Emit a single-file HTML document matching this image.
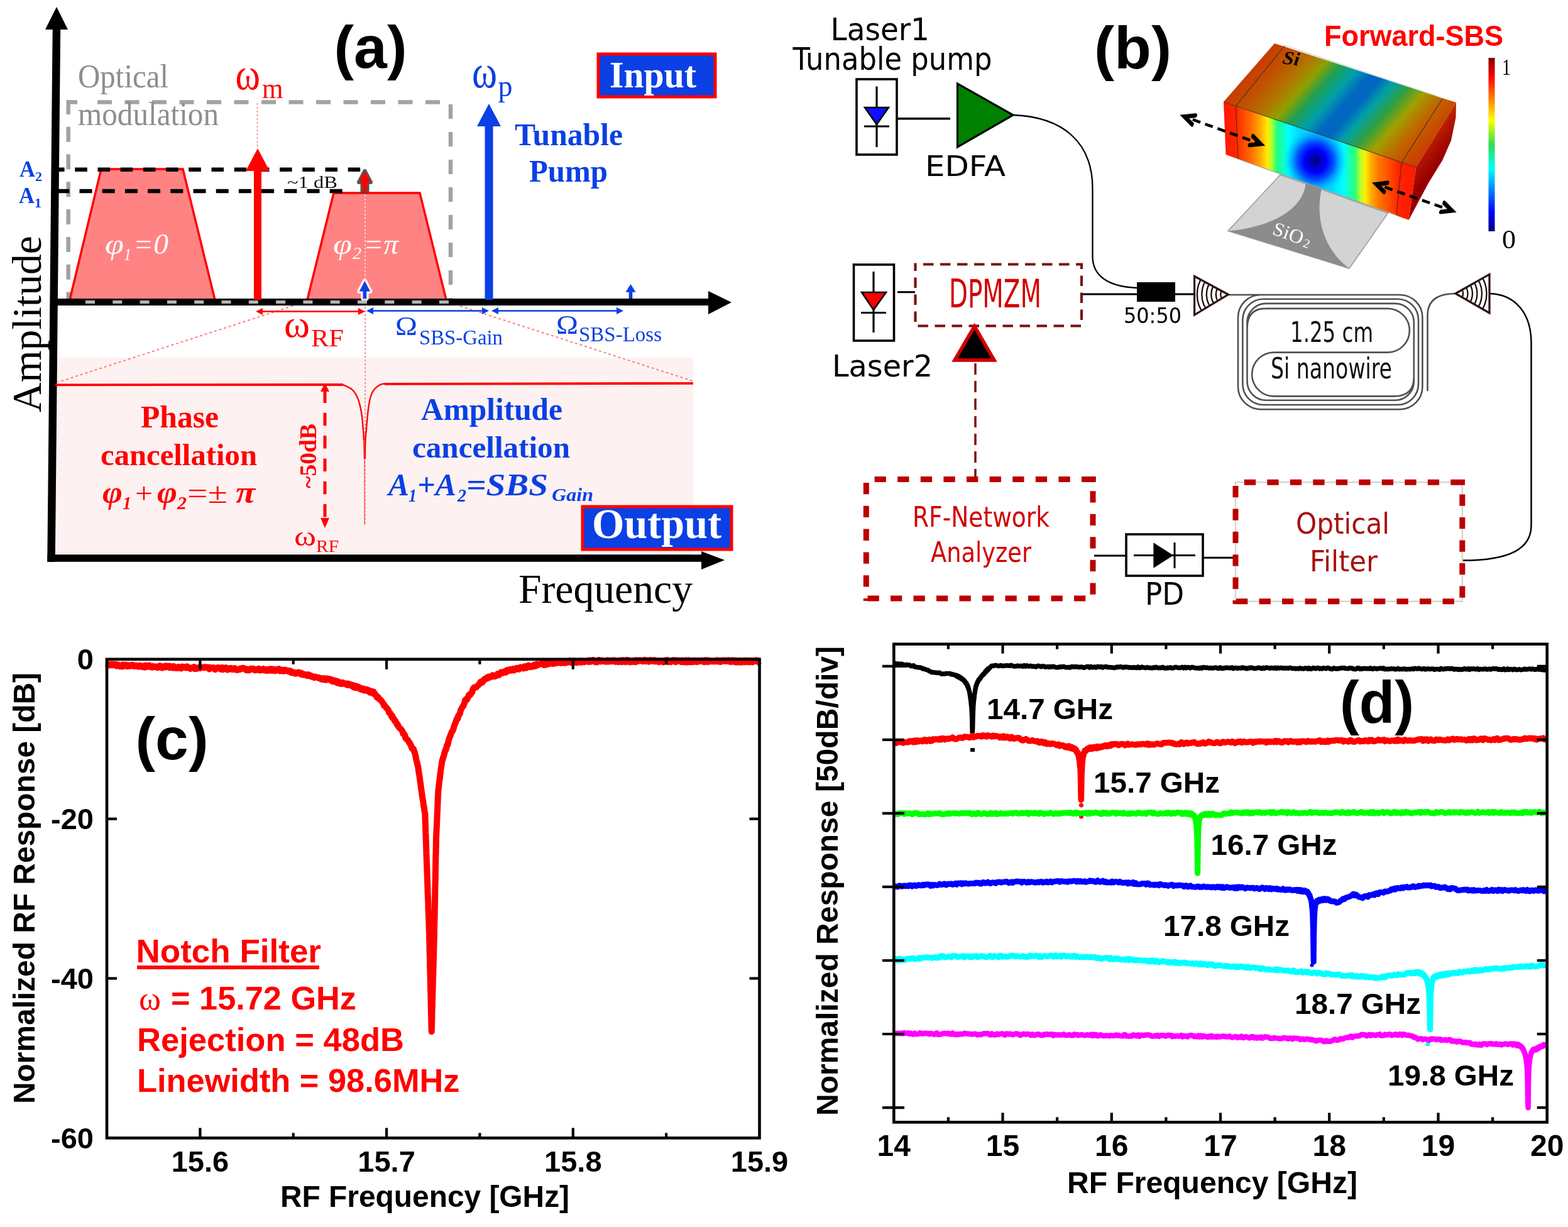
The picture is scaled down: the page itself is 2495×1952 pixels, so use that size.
<!DOCTYPE html><html><head><meta charset="utf-8"><title>figure</title><style>html,body{margin:0;padding:0;background:#fff;overflow:hidden}svg{display:block}</style></head><body><svg xmlns="http://www.w3.org/2000/svg" width="2495" height="1952" viewBox="0 0 2495 1952"><rect width="2495" height="1952" fill="#fff"/><rect x="87" y="569" width="1016" height="314" fill="#fdf1f1"/>
<path d="M105.5,162.5 H123 M108.7,159 V182 M155.0,162.5 H178.0 M198.5,162.5 H221.5 M242.0,162.5 H265.0 M285.5,162.5 H308.5 M329.0,162.5 H352.0 M372.5,162.5 H395.5 M416.0,162.5 H439.0 M459.5,162.5 H482.5 M503.0,162.5 H526.0 M546.5,162.5 H569.5 M590.0,162.5 H613.0 M633.5,162.5 H656.5 M677.0,162.5 H700.0 M717,166.0 V189.0 M717,210.0 V233.0 M717,254.0 V277.0 M717,298.0 V321.0 M717,342.0 V365.0 M717,386.0 V409.0 M717,430.0 V453.0 M717,474.0 V478.0 M108.7,201.7 V225.7 M108.7,245.5 V269.5 M108.7,289.3 V313.3 M108.7,333.1 V357.1 M108.7,376.9 V400.9 M108.7,420.7 V444.7 M108.7,464.5 V478.0" fill="none" stroke="#a2a2a2" stroke-width="6.5"/>
<polygon points="111.0,477.0 161.0,269.0 291.0,269.0 342.0,477.0" fill="#ff8383" stroke="#ff0000" stroke-width="3.5" stroke-linejoin="miter"/>
<polygon points="489.0,477.0 531.0,307.0 668.0,307.0 710.0,477.0" fill="#ff8383" stroke="#ff0000" stroke-width="3.5" stroke-linejoin="miter"/>
<line x1="83.1" y1="269.8" x2="576" y2="269.8" stroke="#000" stroke-width="6.5" stroke-dasharray="19.5 16.7"/>
<line x1="90.3" y1="304" x2="546" y2="304" stroke="#000" stroke-width="6.5" stroke-dasharray="20 16.2"/>
<line x1="409.5" y1="164" x2="409.5" y2="236" stroke="#ff9a9a" stroke-width="2" stroke-dasharray="3 3"/>
<line x1="581" y1="310" x2="581" y2="470" stroke="#ffd0d0" stroke-width="2" stroke-dasharray="3 3"/>
<line x1="581" y1="488" x2="581" y2="836" stroke="#ff8a8a" stroke-width="2" stroke-dasharray="3 3"/>
<line x1="474" y1="484" x2="92" y2="608" stroke="#ff7070" stroke-width="1.8" stroke-dasharray="4 4"/>
<line x1="717" y1="482" x2="1102" y2="606" stroke="#ff7070" stroke-width="1.8" stroke-dasharray="4 4"/>
<line x1="90" y1="40" x2="81.5" y2="894" stroke="#000" stroke-width="12.5"/>
<polygon points="90.0,11.0 108.0,47.0 72.0,47.0" fill="#000" stroke="none" stroke-width="1" />
<line x1="88" y1="480.5" x2="1130" y2="480.5" stroke="#000" stroke-width="11" />
<polygon points="1164.0,481.0 1127.0,463.0 1127.0,500.0" fill="#000" stroke="none" stroke-width="1" />
<line x1="75.5" y1="888" x2="1118" y2="888" stroke="#000" stroke-width="11.5" />
<polygon points="1153.0,891.0 1116.0,877.0 1116.0,906.0" fill="#000" stroke="none" stroke-width="1" />
<line x1="136" y1="480.5" x2="720" y2="480.5" stroke="#b4b4b4" stroke-width="5" stroke-dasharray="15 28.3"/>
<rect x="404" y="268" width="12" height="209" fill="#ff0000"/>
<polygon points="410.0,236.0 429.0,272.0 391.0,272.0" fill="#ff0000" stroke="none" stroke-width="1" />
<rect x="771.5" y="198" width="13" height="279" fill="#0a40e4"/>
<polygon points="778.0,165.0 797.0,201.0 759.0,201.0" fill="#0a40e4" stroke="none" stroke-width="1" />
<path d="M580.4,447 L589.0,463.4 L583.1999999999999,463.4 L583.1999999999999,475 L577.6,475 L577.6,463.4 L571.8,463.4 Z" fill="none" stroke="#ffffff" stroke-width="7" stroke-linejoin="round" opacity="0.85"/>
<path d="M580.4,447 L589.0,463.4 L583.1999999999999,463.4 L583.1999999999999,475 L577.6,475 L577.6,463.4 L571.8,463.4 Z" fill="#0a40e4"/>
<path d="M1003.5,452 L1011.5,464.7 L1006.3,464.7 L1006.3,475 L1000.7,475 L1000.7,464.7 L995.5,464.7 Z" fill="#0a40e4"/>
<path d="M580.5,272 L590.0,290 L584.5,290 L584.5,304 L576.5,304 L576.5,290 L571.0,290 Z" fill="none" stroke="#3c4848" stroke-width="6" stroke-linejoin="round" opacity="0.9"/>
<path d="M580.5,272 L590.0,290 L584.5,290 L584.5,304 L576.5,304 L576.5,290 L571.0,290 Z" fill="#ff0000"/>
<line x1="414" y1="495.5" x2="574" y2="495.5" stroke="#ff0000" stroke-width="2.5" />
<polygon points="407.0,495.5 418.0,490.0 418.0,501.0" fill="#ff0000" stroke="none" stroke-width="1" />
<polygon points="581.0,495.5 570.0,490.0 570.0,501.0" fill="#ff0000" stroke="none" stroke-width="1" />
<line x1="590" y1="494.5" x2="771" y2="494.5" stroke="#0a40e4" stroke-width="2.5" />
<polygon points="583.0,494.5 594.0,489.0 594.0,500.0" fill="#0a40e4" stroke="none" stroke-width="1" />
<polygon points="778.0,494.5 767.0,489.0 767.0,500.0" fill="#0a40e4" stroke="none" stroke-width="1" />
<line x1="789" y1="494.5" x2="985" y2="494.5" stroke="#0a40e4" stroke-width="2.5" />
<polygon points="782.0,494.5 793.0,489.0 793.0,500.0" fill="#0a40e4" stroke="none" stroke-width="1" />
<polygon points="992.0,494.5 981.0,489.0 981.0,500.0" fill="#0a40e4" stroke="none" stroke-width="1" />
<polyline points="88.0,612.3 546.0,612.0" fill="none" stroke="#ff0000" stroke-width="3.8" stroke-linejoin="round" />
<polyline points="540.0,612.0 540.4,612.0 540.9,611.9 541.4,611.7 542.1,611.6 542.8,611.6 543.7,611.7 544.8,611.9 546.0,612.3 547.5,612.9 549.3,613.6 551.2,614.5 553.3,615.5 555.4,616.6 557.5,617.8 559.4,619.1 561.0,620.5 562.4,622.0 563.8,623.6 565.0,625.4 566.1,627.2 567.2,629.1 568.1,631.2 569.1,633.4 570.0,635.7 570.9,638.2 571.7,640.9 572.4,643.7 573.1,646.6 573.8,649.6 574.4,652.6 574.9,655.6 575.4,658.5 575.8,661.4 576.2,664.2 576.5,667.1 576.8,670.0 577.0,672.8 577.3,675.7 577.5,678.6 577.7,681.4 577.9,684.2 578.2,687.0 578.4,689.7 578.6,692.5 578.7,695.3 578.9,698.1 579.1,701.0 579.2,704.0 579.3,707.3 579.4,710.9 579.5,714.6 579.6,718.4 579.7,722.0 579.7,725.2 579.8,728.0 579.8,730.0" fill="none" stroke="#ff0000" stroke-width="2.4" stroke-linejoin="round" />
<polyline points="579.8,700.0 580.2,835.0" fill="none" stroke="#ff6a6a" stroke-width="1.7" stroke-linejoin="round" />
<polyline points="580.8,730.0 580.8,728.0 580.9,725.2 580.9,722.0 580.9,718.4 581.0,714.6 581.1,710.9 581.2,707.3 581.3,704.0 581.4,701.1 581.6,698.3 581.8,695.6 582.0,693.0 582.2,690.3 582.5,687.5 582.7,684.6 583.0,681.4 583.3,677.9 583.6,674.1 584.0,670.1 584.4,666.0 584.8,662.0 585.2,658.1 585.6,654.4 586.0,651.0 586.4,647.9 586.8,645.1 587.3,642.4 587.7,639.9 588.2,637.5 588.7,635.2 589.2,633.0 589.8,631.0 590.4,629.1 591.1,627.3 591.8,625.7 592.5,624.2 593.2,622.8 594.1,621.5 595.0,620.2 596.0,619.0 597.1,617.8 598.4,616.6 599.7,615.5 601.2,614.4 602.6,613.5 604.0,612.6 605.4,611.9 606.6,611.3 607.8,610.9 609.1,610.7 610.3,610.6 611.5,610.6 612.6,610.6 613.5,610.7 614.4,610.8 615.0,610.8" fill="none" stroke="#ff0000" stroke-width="2.4" stroke-linejoin="round" />
<polyline points="612.0,610.8 760.0,610.6 1103.0,609.8" fill="none" stroke="#ff0000" stroke-width="3.8" stroke-linejoin="round" />
<line x1="517" y1="620.5" x2="517" y2="823" stroke="#ff0000" stroke-width="5" stroke-dasharray="20.5 15.8"/>
<polygon points="517.0,609.5 524.0,623.0 510.0,623.0" fill="#ff0000" stroke="none" stroke-width="1" />
<polygon points="517.0,840.0 524.0,824.0 510.0,824.0" fill="#ff0000" stroke="none" stroke-width="1" />
<rect x="952" y="86" width="186" height="68" fill="#0a40e4" stroke="#ff0000" stroke-width="5"/>
<rect x="927" y="806" width="237" height="68" fill="#0a40e4" stroke="#ff0000" stroke-width="5"/>
<text x="531.5" y="107.5" font-size="94" font-family='"Liberation Sans", Arial, sans-serif' fill="#000" font-weight="bold" textLength="116" lengthAdjust="spacingAndGlyphs">(a)</text>
<text x="124" y="139" font-size="52" font-family='"Liberation Serif", "Times New Roman", serif' fill="#8e8e8e" textLength="144" lengthAdjust="spacingAndGlyphs">Optical</text>
<text x="124" y="199" font-size="52" font-family='"Liberation Serif", "Times New Roman", serif' fill="#8e8e8e" textLength="224" lengthAdjust="spacingAndGlyphs">modulation</text>
<text x="374.5" y="142" font-size="71" font-family='"Liberation Serif", "Times New Roman", serif' fill="#ff0000" textLength="39.5" lengthAdjust="spacingAndGlyphs">&#969;</text>
<text x="417" y="156" font-size="47" font-family='"Liberation Serif", "Times New Roman", serif' fill="#ff0000" textLength="33.5" lengthAdjust="spacingAndGlyphs">m</text>
<text x="751" y="138.5" font-size="73" font-family='"Liberation Serif", "Times New Roman", serif' fill="#0a40e4" textLength="40" lengthAdjust="spacingAndGlyphs">&#969;</text>
<text x="792.5" y="153.4" font-size="48" font-family='"Liberation Serif", "Times New Roman", serif' fill="#0a40e4" textLength="23" lengthAdjust="spacingAndGlyphs">p</text>
<text x="819" y="231" font-size="50" font-family='"Liberation Serif", "Times New Roman", serif' fill="#0a40e4" font-weight="bold" textLength="172" lengthAdjust="spacingAndGlyphs">Tunable</text>
<text x="842" y="289" font-size="50" font-family='"Liberation Serif", "Times New Roman", serif' fill="#0a40e4" font-weight="bold" textLength="125" lengthAdjust="spacingAndGlyphs">Pump</text>
<text x="970" y="139" font-size="60" font-family='"Liberation Serif", "Times New Roman", serif' fill="#fff" font-weight="bold" textLength="138" lengthAdjust="spacingAndGlyphs">Input</text>
<text x="942" y="856" font-size="68" font-family='"Liberation Serif", "Times New Roman", serif' fill="#fff" font-weight="bold" textLength="206" lengthAdjust="spacingAndGlyphs">Output</text>
<text x="31" y="281" font-size="35" font-family='"Liberation Serif", "Times New Roman", serif' fill="#0a40e4" font-weight="bold" textLength="25" lengthAdjust="spacingAndGlyphs">A</text>
<text x="56" y="288" font-size="22" font-family='"Liberation Serif", "Times New Roman", serif' fill="#0a40e4" font-weight="bold" textLength="11" lengthAdjust="spacingAndGlyphs">2</text>
<text x="30" y="323" font-size="35" font-family='"Liberation Serif", "Times New Roman", serif' fill="#0a40e4" font-weight="bold" textLength="25" lengthAdjust="spacingAndGlyphs">A</text>
<text x="55" y="330" font-size="22" font-family='"Liberation Serif", "Times New Roman", serif' fill="#0a40e4" font-weight="bold" textLength="11" lengthAdjust="spacingAndGlyphs">1</text>
<text x="457" y="298.5" font-size="27" font-family='"Liberation Serif", "Times New Roman", serif' fill="#111" textLength="80" lengthAdjust="spacingAndGlyphs">~1 dB</text>
<text x="167" y="404" font-size="46" font-family='"Liberation Serif", "Times New Roman", serif' fill="#fff" font-style="italic" textLength="30" lengthAdjust="spacingAndGlyphs">&#966;</text>
<text x="197" y="414" font-size="28" font-family='"Liberation Serif", "Times New Roman", serif' fill="#fff" font-style="italic" textLength="12" lengthAdjust="spacingAndGlyphs">1</text>
<text x="212" y="404" font-size="46" font-family='"Liberation Serif", "Times New Roman", serif' fill="#fff" font-style="italic" textLength="56" lengthAdjust="spacingAndGlyphs">=0</text>
<text x="530" y="404" font-size="46" font-family='"Liberation Serif", "Times New Roman", serif' fill="#fff" font-style="italic" textLength="30" lengthAdjust="spacingAndGlyphs">&#966;</text>
<text x="561" y="412" font-size="28" font-family='"Liberation Serif", "Times New Roman", serif' fill="#fff" font-style="italic" textLength="14" lengthAdjust="spacingAndGlyphs">2</text>
<text x="578" y="404" font-size="46" font-family='"Liberation Serif", "Times New Roman", serif' fill="#fff" font-style="italic" textLength="56" lengthAdjust="spacingAndGlyphs">=&#960;</text>
<text x="452" y="536" font-size="62" font-family='"Liberation Serif", "Times New Roman", serif' fill="#ff0000" textLength="41" lengthAdjust="spacingAndGlyphs">&#969;</text>
<text x="495" y="550.6" font-size="41" font-family='"Liberation Serif", "Times New Roman", serif' fill="#ff0000" textLength="52" lengthAdjust="spacingAndGlyphs">RF</text>
<text x="629" y="533" font-size="43" font-family='"Liberation Serif", "Times New Roman", serif' fill="#0a40e4" textLength="35" lengthAdjust="spacingAndGlyphs">&#937;</text>
<text x="667" y="547.5" font-size="33.5" font-family='"Liberation Serif", "Times New Roman", serif' fill="#0a40e4" textLength="133" lengthAdjust="spacingAndGlyphs">SBS-Gain</text>
<text x="885" y="531" font-size="43" font-family='"Liberation Serif", "Times New Roman", serif' fill="#0a40e4" textLength="35" lengthAdjust="spacingAndGlyphs">&#937;</text>
<text x="921" y="543" font-size="33.5" font-family='"Liberation Serif", "Times New Roman", serif' fill="#0a40e4" textLength="132" lengthAdjust="spacingAndGlyphs">SBS-Loss</text>
<text x="0" y="0" font-size="66" font-family='"Liberation Serif", "Times New Roman", serif' fill="#000" textLength="281" lengthAdjust="spacingAndGlyphs" transform="translate(65,656) rotate(-90)">Amplitude</text>
<text x="825" y="958.5" font-size="65" font-family='"Liberation Serif", "Times New Roman", serif' fill="#000" textLength="277" lengthAdjust="spacingAndGlyphs">Frequency</text>
<text x="224" y="680" font-size="50" font-family='"Liberation Serif", "Times New Roman", serif' fill="#ff0000" font-weight="bold" textLength="124" lengthAdjust="spacingAndGlyphs">Phase</text>
<text x="160" y="740" font-size="49" font-family='"Liberation Serif", "Times New Roman", serif' fill="#ff0000" font-weight="bold" textLength="249" lengthAdjust="spacingAndGlyphs">cancellation</text>
<text x="163" y="800" font-size="50" font-family='"Liberation Serif", "Times New Roman", serif' fill="#ff0000" font-weight="bold" font-style="italic" textLength="32" lengthAdjust="spacingAndGlyphs">&#966;</text>
<text x="195" y="810" font-size="30" font-family='"Liberation Serif", "Times New Roman", serif' fill="#ff0000" font-weight="bold" font-style="italic" textLength="14" lengthAdjust="spacingAndGlyphs">1</text>
<text x="215" y="800" font-size="46" font-family='"Liberation Serif", "Times New Roman", serif' fill="#ff0000" textLength="28" lengthAdjust="spacingAndGlyphs">+</text>
<text x="250" y="800" font-size="50" font-family='"Liberation Serif", "Times New Roman", serif' fill="#ff0000" font-weight="bold" font-style="italic" textLength="32" lengthAdjust="spacingAndGlyphs">&#966;</text>
<text x="282" y="810" font-size="30" font-family='"Liberation Serif", "Times New Roman", serif' fill="#ff0000" font-weight="bold" font-style="italic" textLength="15" lengthAdjust="spacingAndGlyphs">2</text>
<text x="298" y="800" font-size="46" font-family='"Liberation Serif", "Times New Roman", serif' fill="#ff0000" textLength="64" lengthAdjust="spacingAndGlyphs">=&#177;</text>
<text x="375" y="800" font-size="50" font-family='"Liberation Serif", "Times New Roman", serif' fill="#ff0000" font-weight="bold" font-style="italic" textLength="31" lengthAdjust="spacingAndGlyphs">&#960;</text>
<text x="0" y="0" font-size="37.5" font-family='"Liberation Serif", "Times New Roman", serif' fill="#ff0000" font-weight="bold" textLength="103" lengthAdjust="spacingAndGlyphs" transform="translate(503,777) rotate(-90)">~50dB</text>
<text x="468" y="868.4" font-size="45" font-family='"Liberation Serif", "Times New Roman", serif' fill="#ff0000" textLength="35" lengthAdjust="spacingAndGlyphs">&#969;</text>
<text x="503" y="878" font-size="26.5" font-family='"Liberation Serif", "Times New Roman", serif' fill="#ff0000" textLength="36" lengthAdjust="spacingAndGlyphs">RF</text>
<text x="670" y="667.6" font-size="50" font-family='"Liberation Serif", "Times New Roman", serif' fill="#0a40e4" font-weight="bold" textLength="225" lengthAdjust="spacingAndGlyphs">Amplitude</text>
<text x="656" y="727.7" font-size="49" font-family='"Liberation Serif", "Times New Roman", serif' fill="#0a40e4" font-weight="bold" textLength="251" lengthAdjust="spacingAndGlyphs">cancellation</text>
<text x="618" y="787.8" font-size="50" font-family='"Liberation Serif", "Times New Roman", serif' fill="#0a40e4" font-weight="bold" font-style="italic" textLength="33" lengthAdjust="spacingAndGlyphs">A</text>
<text x="650" y="798" font-size="30" font-family='"Liberation Serif", "Times New Roman", serif' fill="#0a40e4" font-weight="bold" font-style="italic" textLength="13" lengthAdjust="spacingAndGlyphs">1</text>
<text x="664" y="787.8" font-size="50" font-family='"Liberation Serif", "Times New Roman", serif' fill="#0a40e4" font-weight="bold" font-style="italic" textLength="62" lengthAdjust="spacingAndGlyphs">+A</text>
<text x="728" y="798" font-size="30" font-family='"Liberation Serif", "Times New Roman", serif' fill="#0a40e4" font-weight="bold" font-style="italic" textLength="14" lengthAdjust="spacingAndGlyphs">2</text>
<text x="742" y="787.8" font-size="50" font-family='"Liberation Serif", "Times New Roman", serif' fill="#0a40e4" font-weight="bold" font-style="italic" textLength="130" lengthAdjust="spacingAndGlyphs">=SBS</text>
<text x="878" y="797" font-size="30" font-family='"Liberation Serif", "Times New Roman", serif' fill="#0a40e4" font-weight="bold" font-style="italic" textLength="66" lengthAdjust="spacingAndGlyphs">Gain</text>
<path d="M1612,183 C1690,186 1738.5,225 1738.5,300 L1738.5,408 C1738.5,438 1762,456 1809,458" fill="none" stroke="#000" stroke-width="2.3"/>
<path d="M2370,467 C2412,468 2436.5,500 2436.5,545 L2436.5,836 C2436.5,872 2404,891.6 2327,891.6" fill="none" stroke="#000" stroke-width="2.5"/>
<path d="M2006,469 H2227.4 A36,36 0 0 1 2263.4,505 V615.2 A36,36 0 0 1 2227.4,651.2 H2006 A36,36 0 0 1 1970,615.2 V505 A36,36 0 0 1 2006,469 Z M2010.3,475.7 H2224 A33,33 0 0 1 2257,508.7 V611 A33,33 0 0 1 2224,644 H2010.3 A33,33 0 0 1 1977.3,611 V508.7 A33,33 0 0 1 2010.3,475.7 Z M2014.5,482.9 H2219.8 A30,30 0 0 1 2249.8,512.9 V606.8 A30,30 0 0 1 2219.8,636.8 H2014.5 A30,30 0 0 1 1984.5,606.8 V512.9 A30,30 0 0 1 2014.5,482.9 Z M1984.5,522 Q1984.5,490.9 2014,490.9 H2208 A34.8,34.8 0 0 1 2208,560.6 H2027 A34.9,34.9 0 0 0 2027,630.4 H2218 Q2249.8,630.4 2249.8,600 M1954,469 H2005 M2271.5,622 V502 Q2271.5,467 2316,467" fill="none" stroke="#505050" stroke-width="2.6"/>
<clipPath id="gc1954"><polygon points="1954.3,468.5 1900.6,439.5 1900.6,501"/></clipPath>
<g clip-path="url(#gc1954)" fill="none" stroke="#1e0c0c" stroke-width="2.3"><circle cx="1954.3" cy="468.5" r="12"/><circle cx="1954.3" cy="468.5" r="19.5"/><circle cx="1954.3" cy="468.5" r="27"/><circle cx="1954.3" cy="468.5" r="34.5"/><circle cx="1954.3" cy="468.5" r="42"/><circle cx="1954.3" cy="468.5" r="49.5"/></g>
<polygon points="1954.3,468.5 1900.6,439.5 1900.6,501" fill="none" stroke="#2a1212" stroke-width="3.2" stroke-linejoin="miter"/>
<clipPath id="gc2316"><polygon points="2316,467 2370,436.4 2370,498"/></clipPath>
<g clip-path="url(#gc2316)" fill="none" stroke="#1e0c0c" stroke-width="2.3"><circle cx="2316" cy="467" r="12"/><circle cx="2316" cy="467" r="19.5"/><circle cx="2316" cy="467" r="27"/><circle cx="2316" cy="467" r="34.5"/><circle cx="2316" cy="467" r="42"/><circle cx="2316" cy="467" r="49.5"/></g>
<polygon points="2316,467 2370,436.4 2370,498" fill="none" stroke="#2a1212" stroke-width="3.2" stroke-linejoin="miter"/>
<line x1="1427" y1="188.7" x2="1512" y2="188.7" stroke="#000" stroke-width="3.5" />
<line x1="1428" y1="464.7" x2="1456" y2="464.7" stroke="#000" stroke-width="3" />
<line x1="1721" y1="468" x2="1810" y2="468" stroke="#000" stroke-width="3" />
<line x1="1869" y1="468" x2="1901" y2="468" stroke="#000" stroke-width="3" />
<line x1="1741" y1="884" x2="1795" y2="884" stroke="#000" stroke-width="3" />
<line x1="1914" y1="887.3" x2="1968" y2="887.3" stroke="#000" stroke-width="3" />
<rect x="1363" y="126" width="64" height="120" fill="#fff" stroke="#000" stroke-width="3.6"/>
<line x1="1395" y1="137.5" x2="1395" y2="234" stroke="#000" stroke-width="3.2" />
<polygon points="1376.0,171.0 1414.0,171.0 1395.0,198.0" fill="#1010ff" stroke="#000" stroke-width="2.5" />
<line x1="1375" y1="201" x2="1415" y2="201" stroke="#000" stroke-width="3.2" />
<polygon points="1523.5,133.0 1523.5,234.0 1612.0,183.0" fill="#008000" stroke="#000" stroke-width="3.2" stroke-linejoin="miter"/>
<rect x="1358.5" y="421" width="64" height="121" fill="#fff" stroke="#000" stroke-width="3.6"/>
<line x1="1390" y1="432" x2="1390" y2="529" stroke="#000" stroke-width="3.2" />
<polygon points="1371.0,465.0 1410.0,465.0 1390.0,493.0" fill="#ff0000" stroke="#000" stroke-width="2.5" />
<line x1="1370" y1="497.5" x2="1410" y2="497.5" stroke="#000" stroke-width="3.2" />
<rect x="1456.5" y="420.5" width="264.5" height="98" fill="none" stroke="#7a1010" stroke-width="4.2" stroke-dasharray="16.5 10.5" stroke-dashoffset="14.5"/>
<line x1="1552" y1="578" x2="1552" y2="763" stroke="#7a1010" stroke-width="3.5" stroke-dasharray="18 10"/>
<polygon points="1550.6,519.0 1582.0,573.0 1519.0,573.0" fill="#000" stroke="#d40000" stroke-width="5.5" stroke-linejoin="miter"/>
<rect x="1809" y="449" width="61" height="31" fill="#000"/>
<path d="M1391.6,762.5 H1409.9 M1428.2,762.5 H1446.5 M1464.8,762.5 H1483.1 M1501.4,762.5 H1519.7 M1538.0,762.5 H1556.3 M1574.6,762.5 H1592.9 M1611.2,762.5 H1629.5 M1647.8,762.5 H1666.1 M1684.4,762.5 H1702.7 M1721.0,762.5 H1739.3 M1721,762.5 H1743.8 M1739,781.2 V799.5 M1739,817.8 V836.0 M1739,854.3 V872.6 M1739,890.8 V909.1 M1739,927.4 V945.7 M1380.5,952 H1398.8 M1417.0,952 H1435.3 M1453.5,952 H1471.8 M1490.0,952 H1508.3 M1526.5,952 H1544.8 M1563.0,952 H1581.3 M1599.5,952 H1617.8 M1636.0,952 H1654.3 M1672.5,952 H1690.8 M1709.0,952 H1727.3 M1378.3,768.0 V786.3 M1378.3,804.8 V823.1 M1378.3,841.6 V859.9 M1378.3,878.4 V896.7 M1378.3,915.2 V933.5 M1378.3,952.0 V956.0" fill="none" stroke="#bb0000" stroke-width="9"/>
<rect x="1966" y="767.2" width="360.8" height="189.5" fill="none" stroke="#d6d6d6" stroke-width="2.5"/>
<path d="M1979.8,767.2 H1998.1 M2016.3,767.2 H2034.6 M2052.8,767.2 H2071.1 M2089.3,767.2 H2107.6 M2125.8,767.2 H2144.1 M2162.3,767.2 H2180.6 M2198.8,767.2 H2217.1 M2235.3,767.2 H2253.6 M2271.8,767.2 H2290.1 M2308.3,767.2 H2326.6 M2309.2,767.2 H2331 M2326.8,786.4 V804.7 M2326.8,822.9 V841.2 M2326.8,859.4 V877.7 M2326.8,895.9 V914.2 M2326.8,932.4 V950.7 M1967.0,956.7 H1985.3 M2003.5,956.7 H2021.8 M2040.0,956.7 H2058.3 M2076.5,956.7 H2094.8 M2113.0,956.7 H2131.3 M2149.5,956.7 H2167.8 M2186.0,956.7 H2204.3 M2222.5,956.7 H2240.8 M2259.0,956.7 H2277.3 M2295.5,956.7 H2313.8 M1966,773.0 V791.3 M1966,809.4 V827.7 M1966,845.8 V864.1 M1966,882.2 V900.5 M1966,918.6 V936.9 M1966,955.0 V961.0" fill="none" stroke="#bb0000" stroke-width="9"/>
<rect x="1792" y="850" width="122" height="66" fill="#fff" stroke="#000" stroke-width="3.6"/>
<line x1="1804" y1="883.5" x2="1902" y2="883.5" stroke="#000" stroke-width="3" />
<polygon points="1835.4,863.3 1835.4,903.8 1867.0,883.5" fill="#000" stroke="none" stroke-width="1" />
<line x1="1869" y1="863" x2="1869" y2="904" stroke="#000" stroke-width="3" />
<defs><linearGradient id="gfront" gradientUnits="userSpaceOnUse" x1="1947" y1="0" x2="2253" y2="0"><stop offset="0" stop-color="#ff1800"/><stop offset="0.06" stop-color="#ff2400"/><stop offset="0.14" stop-color="#ff6a00"/><stop offset="0.19" stop-color="#ffa800"/><stop offset="0.228" stop-color="#ffee00"/><stop offset="0.25" stop-color="#b0ff30"/><stop offset="0.278" stop-color="#20ff80"/><stop offset="0.34" stop-color="#00ffff"/><stop offset="0.40" stop-color="#00d8ff"/><stop offset="0.48" stop-color="#00c8ff"/><stop offset="0.56" stop-color="#00d8ff"/><stop offset="0.623" stop-color="#00ffff"/><stop offset="0.686" stop-color="#30ff70"/><stop offset="0.71" stop-color="#b0ff30"/><stop offset="0.737" stop-color="#ffee00"/><stop offset="0.77" stop-color="#ffa800"/><stop offset="0.806" stop-color="#ff7800"/><stop offset="0.876" stop-color="#ff4000"/><stop offset="0.91" stop-color="#ff2400"/><stop offset="1" stop-color="#ff1800"/></linearGradient><radialGradient id="gspot" gradientUnits="userSpaceOnUse" cx="2093" cy="256" r="54" gradientTransform="translate(2093 256) scale(0.95 1) translate(-2093 -256)"><stop offset="0" stop-color="#000070"/><stop offset="0.15" stop-color="#0000b8"/><stop offset="0.35" stop-color="#0000ff"/><stop offset="0.58" stop-color="#0058ff"/><stop offset="0.8" stop-color="#00a8ff" stop-opacity="0.6"/><stop offset="1" stop-color="#00e0ff" stop-opacity="0"/></radialGradient><linearGradient id="gtop" gradientUnits="userSpaceOnUse" x1="1947" y1="162" x2="2172.5" y2="358.4"><stop offset="0" stop-color="#c83c00"/><stop offset="0.1" stop-color="#c05200"/><stop offset="0.2" stop-color="#b07800"/><stop offset="0.27" stop-color="#90a000"/><stop offset="0.34" stop-color="#20a050"/><stop offset="0.42" stop-color="#00a0a8"/><stop offset="0.49" stop-color="#0068c0"/><stop offset="0.55" stop-color="#0068c0"/><stop offset="0.61" stop-color="#00a0a8"/><stop offset="0.69" stop-color="#30a040"/><stop offset="0.77" stop-color="#a0a000"/><stop offset="0.86" stop-color="#c06800"/><stop offset="0.95" stop-color="#c84800"/><stop offset="1" stop-color="#c83c00"/></linearGradient><linearGradient id="gright" gradientUnits="userSpaceOnUse" x1="2262" y1="215" x2="2300" y2="245"><stop offset="0" stop-color="#c84200"/><stop offset="0.45" stop-color="#b41800"/><stop offset="1" stop-color="#980000"/></linearGradient><linearGradient id="gcbar" x1="0" y1="0" x2="0" y2="1"><stop offset="0" stop-color="#800000"/><stop offset="0.11" stop-color="#ff0000"/><stop offset="0.36" stop-color="#ffff00"/><stop offset="0.5" stop-color="#30dd50"/><stop offset="0.64" stop-color="#00ffff"/><stop offset="0.89" stop-color="#0000ff"/><stop offset="1" stop-color="#000080"/></linearGradient></defs>
<polygon points="2037.0,278.0 1954.0,367.5 2147.0,427.0 2208.5,339.0" fill="#d3d3d3" stroke="#9a9a9a" stroke-width="1.5" />
<path d="M2078,288 C2076,330 2030,360 1955,367.5 L2147,427 C2110,400 2090,350 2104,296 Z" fill="#8c8c8c"/>
<text x="0" y="0" font-size="31" font-family='"Liberation Serif", "Times New Roman", serif' fill="#fff" textLength="50" lengthAdjust="spacingAndGlyphs" transform="translate(2023,372) rotate(20)">SiO</text>
<text x="0" y="0" font-size="20" font-family='"Liberation Serif", "Times New Roman", serif' fill="#fff" textLength="10" lengthAdjust="spacingAndGlyphs" transform="translate(2072,392) rotate(20)">2</text>
<polygon points="2253.0,266.0 2317.0,163.0 2316.5,187.0 2309.0,223.5 2295.0,255.5 2272.5,292.0 2241.6,350.0" fill="url(#gright)" stroke="none" stroke-width="1" />
<polygon points="1947.0,162.0 2028.0,69.0 2317.0,163.0 2253.0,266.0" fill="url(#gtop)" stroke="none" stroke-width="1" />
<polygon points="1947.0,162.0 2253.0,266.0 2241.6,350.0 1950.5,246.0" fill="url(#gfront)" stroke="none" stroke-width="1" />
<polygon points="1966.5,168.7 2230,259 2222,342 1970,253" fill="url(#gspot)"/>
<g fill="none" stroke="#3a2a20" stroke-width="1.2" opacity="0.8"><polyline points="1966.5,168.7 2044,72.8"/><polyline points="1966.5,168.7 1970,253"/><polyline points="1947,162 2253,266"/><polyline points="2230,259 2296,156"/><polyline points="2230,259 2222,342"/></g>
<line x1="2044" y1="72" x2="2296" y2="156" stroke="#d8d8d8" stroke-width="1.5"/>
<line x1="1970" y1="253" x2="2222" y2="342" stroke="#a0a0a0" stroke-width="1.2"/>
<text x="0" y="0" font-size="30" font-family='"Liberation Serif", "Times New Roman", serif' fill="#000" font-weight="bold" font-style="italic" textLength="27" lengthAdjust="spacingAndGlyphs" transform="translate(2040,101) rotate(8)">Si</text>
<line x1="1897.8" y1="190.2" x2="2002.2" y2="227.7" stroke="#000" stroke-width="4.6" stroke-dasharray="13 8"/>
<polyline points="1987.9,231.8 2007.8,229.7 1993.8,215.4" fill="none" stroke="#000" stroke-width="5" stroke-linecap="round" stroke-linejoin="miter"/>
<polyline points="1902.6,182.7 1882.7,184.8 1896.7,199.1" fill="none" stroke="#000" stroke-width="5" stroke-linecap="round" stroke-linejoin="miter"/>
<polyline points="1902.3,185.4 1888.3,186.8 1898.2,196.8" fill="none" stroke="#000" stroke-width="3.5" stroke-linecap="round" stroke-linejoin="miter"/>
<polyline points="1988.2,229.1 2002.2,227.7 1992.3,217.7" fill="none" stroke="#000" stroke-width="3.5" stroke-linecap="round" stroke-linejoin="miter"/>
<line x1="2203.4" y1="297.7" x2="2306.5" y2="333.8" stroke="#000" stroke-width="4.6" stroke-dasharray="13 8"/>
<polyline points="2292.3,338.1 2312.2,335.8 2298.1,321.6" fill="none" stroke="#000" stroke-width="5" stroke-linecap="round" stroke-linejoin="miter"/>
<polyline points="2208.2,290.1 2188.3,292.4 2202.4,306.6" fill="none" stroke="#000" stroke-width="5" stroke-linecap="round" stroke-linejoin="miter"/>
<polyline points="2207.9,292.8 2194.0,294.4 2203.8,304.3" fill="none" stroke="#000" stroke-width="3.5" stroke-linecap="round" stroke-linejoin="miter"/>
<polyline points="2292.6,335.4 2306.5,333.8 2296.7,323.9" fill="none" stroke="#000" stroke-width="3.5" stroke-linecap="round" stroke-linejoin="miter"/>
<rect x="2368.5" y="92" width="10" height="276" fill="url(#gcbar)"/>
<text x="2390" y="118.6" font-size="36" font-family='"Liberation Serif", "Times New Roman", serif' fill="#000" textLength="14" lengthAdjust="spacingAndGlyphs">1</text>
<text x="2390" y="395" font-size="42" font-family='"Liberation Serif", "Times New Roman", serif' fill="#000" textLength="22" lengthAdjust="spacingAndGlyphs">0</text>
<text x="1741" y="108.5" font-size="94" font-family='"Liberation Sans", Arial, sans-serif' fill="#000" font-weight="bold" textLength="123" lengthAdjust="spacingAndGlyphs">(b)</text>
<text x="2107" y="73.3" font-size="46" font-family='"Liberation Sans", Arial, sans-serif' fill="#ff0000" font-weight="bold" textLength="285" lengthAdjust="spacingAndGlyphs">Forward-SBS</text>
<text x="1321.5" y="64.3" font-size="50" font-family='"DejaVu Sans", Verdana, sans-serif' fill="#000" textLength="157.5" lengthAdjust="spacingAndGlyphs">Laser1</text>
<text x="1261.5" y="111.2" font-size="49" font-family='"DejaVu Sans", Verdana, sans-serif' fill="#000" textLength="317" lengthAdjust="spacingAndGlyphs">Tunable pump</text>
<text x="1472" y="280" font-size="44" font-family='"DejaVu Sans", Verdana, sans-serif' fill="#000" textLength="128" lengthAdjust="spacingAndGlyphs">EDFA</text>
<text x="1324" y="598.7" font-size="48" font-family='"DejaVu Sans", Verdana, sans-serif' fill="#000" textLength="160" lengthAdjust="spacingAndGlyphs">Laser2</text>
<text x="1510" y="489" font-size="63" font-family='"DejaVu Sans", Verdana, sans-serif' fill="#d40000" textLength="147" lengthAdjust="spacingAndGlyphs">DPMZM</text>
<text x="1788" y="513.8" font-size="34" font-family='"DejaVu Sans", Verdana, sans-serif' fill="#000" textLength="92" lengthAdjust="spacingAndGlyphs">50:50</text>
<text x="2053" y="544" font-size="45" font-family='"DejaVu Sans", Verdana, sans-serif' fill="#111" textLength="132" lengthAdjust="spacingAndGlyphs">1.25 cm</text>
<text x="2022" y="601.5" font-size="46" font-family='"DejaVu Sans", Verdana, sans-serif' fill="#111" textLength="193" lengthAdjust="spacingAndGlyphs">Si nanowire</text>
<text x="1452" y="838" font-size="44" font-family='"DejaVu Sans", Verdana, sans-serif' fill="#d20000" textLength="218" lengthAdjust="spacingAndGlyphs">RF-Network</text>
<text x="1481" y="894" font-size="44" font-family='"DejaVu Sans", Verdana, sans-serif' fill="#d20000" textLength="160" lengthAdjust="spacingAndGlyphs">Analyzer</text>
<text x="2062" y="849" font-size="46" font-family='"DejaVu Sans", Verdana, sans-serif' fill="#a81010" textLength="149" lengthAdjust="spacingAndGlyphs">Optical</text>
<text x="2084" y="909" font-size="46" font-family='"DejaVu Sans", Verdana, sans-serif' fill="#a81010" textLength="108" lengthAdjust="spacingAndGlyphs">Filter</text>
<text x="1822" y="962" font-size="49" font-family='"DejaVu Sans", Verdana, sans-serif' fill="#000" textLength="62" lengthAdjust="spacingAndGlyphs">PD</text>
<path d="M170.0,1057.4 L171.2,1056.8 L172.4,1058.6 L173.6,1056.6 L174.8,1058.3 L176.0,1057.7 L177.2,1056.6 L178.4,1058.3 L179.7,1056.6 L180.9,1058.1 L182.1,1056.8 L183.3,1057.0 L184.5,1058.2 L185.7,1059.7 L186.9,1057.2 L188.1,1057.6 L189.3,1059.1 L190.5,1060.3 L191.7,1059.0 L192.9,1058.4 L194.1,1060.5 L195.3,1057.2 L196.5,1060.1 L197.8,1058.1 L199.0,1057.7 L200.2,1057.6 L201.4,1058.3 L202.6,1060.2 L203.8,1057.9 L205.0,1059.4 L206.2,1059.7 L207.4,1058.7 L208.6,1059.4 L209.8,1057.7 L211.0,1057.7 L212.2,1058.3 L213.4,1060.0 L214.6,1059.2 L215.9,1058.8 L217.1,1059.8 L218.3,1059.4 L219.5,1058.9 L220.7,1060.7 L221.9,1060.4 L223.1,1058.8 L224.3,1060.0 L225.5,1059.9 L226.7,1061.2 L227.9,1060.7 L229.1,1059.1 L230.3,1061.7 L231.5,1058.6 L232.7,1059.7 L234.0,1061.0 L235.2,1058.8 L236.4,1060.1 L237.6,1058.5 L238.8,1060.8 L240.0,1061.2 L241.2,1060.6 L242.4,1061.7 L243.6,1059.7 L244.8,1061.1 L246.0,1060.8 L247.2,1060.8 L248.4,1060.4 L249.6,1061.8 L250.8,1062.2 L252.0,1060.5 L253.3,1061.3 L254.5,1059.1 L255.7,1061.5 L256.9,1061.3 L258.1,1062.6 L259.3,1062.0 L260.5,1060.1 L261.7,1060.5 L262.9,1061.6 L264.1,1059.3 L265.3,1060.9 L266.5,1059.9 L267.7,1059.8 L268.9,1059.6 L270.1,1062.2 L271.4,1059.9 L272.6,1060.4 L273.8,1060.9 L275.0,1062.7 L276.2,1059.9 L277.4,1061.3 L278.6,1061.7 L279.8,1062.9 L281.0,1062.7 L282.2,1062.9 L283.4,1060.9 L284.6,1061.4 L285.8,1061.2 L287.0,1063.2 L288.2,1063.5 L289.5,1060.6 L290.7,1060.7 L291.9,1061.0 L293.1,1061.0 L294.3,1061.9 L295.5,1062.4 L296.7,1061.2 L297.9,1060.3 L299.1,1061.9 L300.3,1061.7 L301.5,1062.5 L302.7,1063.9 L303.9,1063.0 L305.1,1062.4 L306.3,1062.8 L307.6,1063.1 L308.8,1060.9 L310.0,1063.9 L311.2,1063.6 L312.4,1063.9 L313.6,1063.7 L314.8,1062.3 L316.0,1062.3 L317.2,1061.3 L318.4,1063.2 L319.6,1061.2 L320.8,1061.3 L322.0,1061.8 L323.2,1061.7 L324.5,1062.3 L325.7,1061.3 L326.9,1061.2 L328.1,1061.7 L329.3,1061.6 L330.5,1062.6 L331.7,1061.4 L332.9,1064.5 L334.1,1063.6 L335.3,1061.9 L336.5,1062.3 L337.7,1062.7 L338.9,1062.8 L340.1,1061.9 L341.4,1064.6 L342.6,1065.1 L343.8,1063.3 L345.0,1063.4 L346.2,1062.0 L347.4,1062.0 L348.6,1062.9 L349.8,1062.7 L351.0,1064.7 L352.2,1062.4 L353.4,1061.9 L354.6,1065.3 L355.8,1063.8 L357.0,1062.4 L358.3,1063.9 L359.5,1062.1 L360.7,1063.9 L361.9,1065.6 L363.1,1065.2 L364.3,1064.6 L365.5,1063.1 L366.7,1063.5 L367.9,1062.8 L369.1,1065.0 L370.3,1064.2 L371.5,1065.1 L372.7,1063.5 L373.9,1063.1 L375.2,1065.3 L376.4,1065.9 L377.6,1065.5 L378.8,1065.3 L380.0,1065.4 L381.2,1065.2 L382.4,1063.4 L383.6,1064.4 L384.8,1063.9 L386.0,1062.7 L387.2,1062.8 L388.4,1063.7 L389.6,1063.6 L390.8,1065.2 L392.1,1066.2 L393.3,1064.4 L394.5,1066.2 L395.7,1066.4 L396.9,1066.3 L398.1,1064.2 L399.3,1063.7 L400.5,1063.8 L401.7,1063.7 L402.9,1063.8 L404.1,1065.3 L405.3,1066.3 L406.5,1066.2 L407.7,1064.9 L409.0,1065.5 L410.2,1066.1 L411.4,1063.6 L412.6,1065.7 L413.8,1066.6 L415.0,1066.2 L416.2,1066.1 L417.4,1065.1 L418.6,1064.1 L419.8,1066.3 L421.0,1064.7 L422.2,1066.4 L423.4,1067.0 L424.6,1065.0 L425.9,1065.1 L427.1,1067.0 L428.3,1066.3 L429.5,1064.3 L430.7,1064.2 L431.9,1064.3 L433.1,1067.0 L434.3,1066.7 L435.5,1064.4 L436.7,1066.8 L437.9,1067.4 L439.1,1066.3 L440.3,1065.2 L441.5,1066.0 L442.8,1064.5 L444.0,1064.1 L445.2,1067.6 L446.4,1066.4 L447.6,1066.0 L448.8,1067.5 L450.0,1065.8 L451.2,1067.6 L452.4,1067.7 L453.6,1065.7 L454.8,1066.1 L455.9,1066.5 L457.1,1066.6 L458.3,1068.1 L459.5,1067.1 L460.7,1068.0 L461.9,1067.2 L463.1,1070.2 L464.2,1068.5 L465.4,1069.1 L466.6,1069.8 L467.8,1071.2 L469.0,1069.7 L470.2,1071.8 L471.4,1070.5 L472.6,1070.9 L473.8,1071.1 L474.9,1069.5 L476.1,1071.3 L477.3,1070.6 L478.5,1070.2 L479.7,1073.3 L480.9,1071.3 L482.1,1072.7 L483.2,1073.8 L484.4,1073.5 L485.6,1072.9 L486.8,1073.8 L488.0,1074.2 L489.2,1075.3 L490.4,1073.1 L491.6,1075.0 L492.8,1074.1 L493.9,1074.4 L495.1,1076.5 L496.3,1075.8 L497.5,1076.2 L498.7,1077.2 L499.9,1078.0 L501.1,1076.5 L502.2,1077.4 L503.4,1077.3 L504.6,1077.5 L505.8,1078.4 L507.0,1077.8 L508.2,1078.4 L509.4,1078.4 L510.6,1080.3 L511.8,1079.7 L512.9,1080.6 L514.1,1081.1 L515.3,1078.9 L516.5,1080.2 L517.7,1081.8 L518.9,1081.7 L520.1,1079.4 L521.2,1079.6 L522.4,1081.0 L523.6,1080.0 L524.8,1080.8 L526.0,1080.5 L527.2,1082.9 L528.4,1083.6 L529.6,1084.4 L530.8,1082.0 L531.9,1084.3 L533.1,1084.5 L534.3,1082.9 L535.5,1085.9 L536.7,1086.5 L537.9,1084.1 L539.1,1087.1 L540.2,1085.4 L541.4,1086.0 L542.6,1088.1 L543.8,1087.9 L545.0,1085.8 L546.2,1087.1 L547.4,1087.7 L548.6,1087.4 L549.8,1087.2 L550.9,1087.9 L552.1,1089.7 L553.3,1087.5 L554.5,1089.7 L555.7,1089.6 L556.9,1088.4 L558.1,1089.8 L559.2,1091.2 L560.4,1091.1 L561.6,1089.8 L562.8,1093.4 L564.0,1093.0 L565.2,1094.1 L566.4,1091.3 L567.5,1092.3 L568.7,1091.9 L569.9,1094.9 L571.1,1093.5 L572.2,1093.4 L573.4,1094.8 L574.6,1096.9 L575.8,1097.0 L576.9,1095.4 L578.1,1095.4 L579.3,1098.5 L580.5,1097.6 L581.7,1098.5 L582.8,1096.7 L584.0,1096.9 L585.2,1099.6 L586.4,1099.0 L587.5,1098.2 L588.7,1101.7 L589.9,1100.9 L591.1,1101.9 L592.2,1099.7 L593.4,1102.9 L594.6,1100.4 L595.6,1104.5 L596.7,1104.2 L597.7,1105.0 L598.7,1107.0 L599.7,1109.5 L600.8,1108.4 L601.8,1109.1 L602.8,1111.7 L603.8,1111.9 L604.9,1112.6 L605.9,1114.0 L606.9,1114.8 L607.9,1116.5 L609.0,1118.1 L610.0,1119.3 L611.0,1122.4 L612.0,1122.1 L613.0,1124.3 L614.0,1124.5 L615.0,1126.6 L616.0,1126.8 L617.0,1129.0 L618.0,1129.6 L619.0,1133.6 L620.0,1134.4 L621.0,1134.5 L622.0,1137.0 L623.0,1140.0 L624.0,1138.5 L625.0,1142.5 L626.0,1142.5 L627.0,1144.1 L628.0,1146.8 L629.0,1146.6 L630.0,1148.5 L630.9,1150.7 L631.9,1153.2 L632.8,1152.4 L633.8,1155.7 L634.7,1156.7 L635.6,1158.0 L636.6,1158.7 L637.5,1160.0 L638.5,1160.4 L639.5,1162.2 L640.4,1163.5 L641.4,1167.4 L642.3,1167.1 L643.2,1168.3 L644.2,1169.5 L645.1,1173.7 L646.1,1175.3 L647.0,1176.1 L648.0,1176.2 L649.0,1177.6 L650.0,1179.3 L651.0,1181.5 L652.0,1181.9 L653.0,1184.5 L654.0,1185.4 L655.0,1189.5 L656.0,1191.1 L657.0,1191.1 L658.0,1191.5 L659.0,1195.7 L659.7,1196.2 L660.3,1199.3 L661.0,1200.9 L661.7,1205.1 L662.3,1208.4 L663.0,1211.3 L663.7,1213.1 L664.3,1217.1 L665.0,1218.2 L665.6,1223.0 L666.1,1226.1 L666.7,1231.0 L667.3,1233.6 L667.9,1237.3 L668.4,1242.1 L669.0,1245.6 L669.6,1250.7 L670.1,1254.3 L670.7,1258.9 L671.3,1262.4 L671.8,1266.4 L672.4,1270.8 L673.0,1272.8 L673.5,1276.4 L674.1,1282.5 L674.7,1283.3 L675.3,1289.2 L675.8,1292.7 L676.4,1294.4 L676.6,1302.6 L676.8,1308.3 L677.0,1312.7 L677.1,1318.6 L677.3,1324.3 L677.5,1327.3 L677.7,1334.1 L677.9,1339.4 L678.1,1346.1 L678.3,1351.4 L678.4,1356.9 L678.6,1361.4 L678.8,1368.0 L679.0,1372.7 L679.2,1377.9 L679.4,1381.4 L679.5,1385.9 L679.7,1391.4 L679.9,1397.4 L680.1,1401.7 L680.3,1409.5 L680.5,1413.7 L680.6,1419.1 L680.8,1424.3 L681.0,1429.7 L681.2,1434.1 L681.4,1437.6 L681.5,1445.6 L681.7,1450.6 L681.9,1454.9 L682.1,1460.2 L682.3,1465.8 L682.5,1468.9 L682.6,1476.5 L682.8,1479.9 L683.0,1484.5 L683.1,1490.6 L683.3,1497.6 L683.4,1501.1 L683.5,1508.5 L683.6,1514.7 L683.8,1518.4 L683.9,1523.4 L684.0,1529.1 L684.1,1535.3 L684.3,1541.0 L684.4,1545.8 L684.5,1551.3 L684.7,1554.7 L684.8,1560.3 L684.9,1566.1 L685.0,1573.3 L685.2,1577.1 L685.3,1583.4 L685.4,1586.8 L685.6,1592.4 L685.7,1598.6 L685.8,1605.4 L685.9,1610.9 L686.1,1616.2 L686.2,1620.2 L686.3,1626.5 L686.4,1631.7 L686.6,1637.1 L686.7,1641.2 L686.8,1638.6 L687.0,1630.7 L687.1,1628.1 L687.3,1622.6 L687.4,1613.9 L687.6,1610.1 L687.7,1606.0 L687.9,1601.1 L688.0,1593.8 L688.2,1587.8 L688.3,1582.2 L688.5,1579.4 L688.6,1571.4 L688.8,1567.3 L688.9,1560.3 L689.1,1556.3 L689.2,1552.4 L689.4,1544.1 L689.5,1541.2 L689.7,1534.6 L689.8,1530.6 L690.0,1524.5 L690.1,1517.4 L690.3,1514.4 L690.4,1507.6 L690.6,1500.5 L690.7,1495.0 L690.9,1491.4 L691.0,1485.8 L691.1,1479.7 L691.2,1473.4 L691.3,1468.5 L691.4,1462.8 L691.6,1459.1 L691.7,1450.4 L691.8,1447.5 L691.9,1442.2 L692.0,1434.0 L692.1,1431.2 L692.2,1424.8 L692.3,1419.9 L692.4,1412.1 L692.6,1406.7 L692.7,1401.2 L692.8,1397.7 L692.9,1390.6 L693.0,1384.2 L693.1,1378.8 L693.2,1372.6 L693.3,1366.2 L693.4,1360.7 L693.6,1357.7 L693.7,1350.1 L693.8,1346.8 L693.9,1338.7 L694.0,1333.2 L694.2,1328.6 L694.5,1322.0 L694.7,1317.3 L694.9,1313.9 L695.2,1308.2 L695.4,1302.6 L695.6,1296.5 L695.9,1292.1 L696.1,1286.7 L696.4,1279.9 L696.6,1275.1 L696.8,1267.2 L697.1,1264.3 L697.3,1257.8 L697.8,1254.8 L698.3,1250.3 L698.9,1244.8 L699.4,1239.9 L699.9,1238.9 L700.4,1231.9 L700.9,1229.0 L701.4,1224.4 L702.0,1220.1 L702.5,1217.6 L703.0,1214.3 L703.7,1209.4 L704.5,1208.5 L705.2,1204.8 L706.0,1203.4 L706.7,1200.5 L707.4,1197.3 L708.2,1194.9 L708.9,1192.7 L709.6,1192.9 L710.4,1189.1 L711.1,1185.7 L711.9,1185.8 L712.6,1183.8 L713.4,1179.7 L714.2,1176.4 L715.0,1174.4 L715.9,1171.9 L716.7,1170.6 L717.5,1167.6 L718.3,1166.0 L719.1,1163.9 L719.9,1162.8 L720.7,1161.8 L721.6,1159.2 L722.4,1155.8 L723.2,1153.6 L724.0,1151.9 L724.9,1149.3 L725.8,1147.2 L726.6,1144.2 L727.5,1142.9 L728.4,1143.4 L729.3,1138.3 L730.2,1137.7 L731.1,1136.1 L731.9,1134.9 L732.8,1130.6 L733.7,1128.8 L734.6,1126.7 L735.5,1125.2 L736.4,1123.4 L737.2,1123.2 L738.1,1120.8 L739.0,1118.8 L740.0,1114.3 L741.1,1112.8 L742.1,1113.7 L743.1,1112.8 L744.1,1109.8 L745.2,1108.7 L746.2,1105.1 L747.2,1104.9 L748.2,1105.4 L749.3,1103.5 L750.3,1102.1 L751.3,1101.0 L752.3,1096.8 L753.4,1094.8 L754.4,1093.5 L755.5,1093.9 L756.6,1093.6 L757.8,1093.6 L758.9,1091.9 L760.0,1090.8 L761.1,1090.3 L762.2,1088.3 L763.3,1087.7 L764.5,1085.0 L765.6,1086.8 L766.7,1083.9 L767.8,1085.5 L768.9,1083.6 L770.0,1081.5 L771.2,1079.9 L772.3,1079.5 L773.4,1080.0 L774.6,1079.8 L775.7,1077.3 L776.9,1076.7 L778.0,1078.0 L779.2,1077.8 L780.3,1076.6 L781.5,1075.6 L782.6,1076.6 L783.8,1074.1 L784.9,1074.7 L786.1,1074.9 L787.3,1076.2 L788.4,1074.7 L789.6,1075.2 L790.7,1073.3 L791.9,1072.0 L793.0,1071.6 L794.2,1073.8 L795.3,1072.5 L796.5,1070.6 L797.6,1069.2 L798.8,1070.5 L800.0,1070.7 L801.1,1069.4 L802.3,1068.4 L803.4,1069.5 L804.6,1070.0 L805.7,1067.1 L806.9,1066.0 L808.0,1066.6 L809.2,1066.5 L810.3,1067.1 L811.5,1064.9 L812.7,1066.8 L813.9,1066.4 L815.1,1065.3 L816.2,1064.0 L817.4,1066.5 L818.6,1063.9 L819.8,1065.5 L821.0,1063.2 L822.2,1062.9 L823.4,1064.6 L824.6,1062.7 L825.8,1064.8 L826.9,1062.9 L828.1,1061.6 L829.3,1061.5 L830.5,1062.0 L831.7,1062.6 L832.9,1063.4 L834.1,1060.3 L835.2,1060.9 L836.4,1060.0 L837.6,1062.6 L838.8,1059.3 L840.0,1058.8 L841.2,1058.6 L842.4,1059.5 L843.6,1061.1 L844.8,1060.8 L845.9,1060.0 L847.1,1060.8 L848.3,1060.3 L849.5,1057.9 L850.7,1057.2 L852.0,1059.7 L853.2,1058.9 L854.4,1056.2 L855.6,1058.3 L856.9,1057.1 L858.1,1056.9 L859.3,1056.6 L860.6,1055.9 L861.8,1055.1 L863.0,1055.9 L864.2,1056.0 L865.5,1058.0 L866.7,1054.9 L867.9,1057.8 L869.2,1054.9 L870.4,1055.2 L871.6,1056.8 L872.9,1056.6 L874.1,1055.0 L875.3,1053.5 L876.5,1054.9 L877.8,1054.3 L879.0,1056.1 L880.2,1053.4 L881.5,1053.8 L882.7,1055.6 L883.9,1052.3 L885.1,1053.5 L886.4,1054.8 L887.6,1054.5 L888.8,1051.8 L890.0,1051.7 L891.3,1051.8 L892.5,1054.9 L893.7,1052.4 L894.9,1054.2 L896.2,1054.7 L897.4,1052.6 L898.6,1052.3 L899.8,1054.8 L901.1,1053.5 L902.3,1052.2 L903.5,1053.8 L904.7,1052.3 L906.0,1052.1 L907.2,1051.1 L908.4,1053.8 L909.6,1054.3 L910.8,1053.2 L912.1,1054.3 L913.3,1051.0 L914.5,1051.7 L915.7,1052.5 L917.0,1054.2 L918.2,1054.2 L919.4,1052.1 L920.6,1051.5 L921.9,1052.1 L923.1,1052.3 L924.3,1053.9 L925.5,1051.1 L926.8,1053.3 L928.0,1053.1 L929.2,1053.3 L930.4,1053.1 L931.6,1052.5 L932.9,1051.4 L934.1,1051.4 L935.3,1051.5 L936.5,1052.9 L937.8,1050.4 L939.0,1050.8 L940.2,1052.7 L941.4,1050.9 L942.7,1050.2 L943.9,1050.0 L945.1,1051.8 L946.3,1051.0 L947.6,1053.3 L948.8,1052.9 L950.0,1053.3 L951.2,1050.7 L952.4,1050.0 L953.6,1050.1 L954.8,1051.5 L956.0,1052.3 L957.2,1051.3 L958.4,1050.6 L959.6,1051.2 L960.8,1052.0 L962.0,1052.2 L963.2,1052.4 L964.4,1052.8 L965.6,1052.1 L966.8,1050.2 L968.0,1052.8 L969.2,1050.8 L970.4,1051.8 L971.6,1051.1 L972.8,1052.4 L974.0,1050.5 L975.2,1050.6 L976.4,1050.6 L977.6,1050.3 L978.8,1052.9 L980.0,1051.8 L981.2,1050.9 L982.4,1051.2 L983.6,1053.3 L984.8,1051.6 L986.0,1050.6 L987.2,1052.7 L988.4,1052.1 L989.6,1053.3 L990.8,1050.1 L992.0,1051.5 L993.2,1052.7 L994.4,1052.8 L995.6,1053.1 L996.8,1049.9 L998.0,1050.9 L999.2,1050.2 L1000.4,1050.5 L1001.6,1053.3 L1002.8,1051.9 L1004.0,1053.2 L1005.2,1051.1 L1006.4,1052.9 L1007.6,1051.4 L1008.8,1050.7 L1010.0,1052.6 L1011.2,1053.2 L1012.4,1050.2 L1013.6,1052.0 L1014.8,1052.1 L1016.0,1050.6 L1017.2,1051.2 L1018.4,1050.3 L1019.6,1050.6 L1020.8,1050.8 L1022.0,1052.0 L1023.2,1052.2 L1024.4,1050.6 L1025.6,1049.9 L1026.8,1051.0 L1028.0,1052.3 L1029.2,1050.5 L1030.4,1051.0 L1031.6,1050.6 L1032.8,1052.7 L1034.0,1051.8 L1035.2,1050.1 L1036.4,1050.2 L1037.6,1051.3 L1038.8,1051.9 L1040.0,1052.2 L1041.2,1050.2 L1042.4,1050.5 L1043.6,1052.4 L1044.8,1051.4 L1046.0,1050.9 L1047.2,1051.0 L1048.4,1053.3 L1049.6,1051.0 L1050.8,1051.9 L1052.0,1051.2 L1053.2,1051.4 L1054.4,1053.0 L1055.6,1053.5 L1056.8,1051.2 L1058.0,1050.6 L1059.2,1052.5 L1060.4,1050.6 L1061.6,1049.9 L1062.8,1053.2 L1064.0,1051.4 L1065.2,1052.9 L1066.4,1051.4 L1067.6,1053.1 L1068.8,1051.6 L1070.0,1050.5 L1071.2,1050.0 L1072.4,1051.9 L1073.6,1052.2 L1074.8,1053.2 L1076.0,1050.3 L1077.2,1052.2 L1078.4,1051.3 L1079.6,1051.8 L1080.8,1050.5 L1082.0,1051.0 L1083.2,1051.8 L1084.4,1053.3 L1085.6,1050.4 L1086.8,1051.7 L1088.0,1052.9 L1089.2,1053.5 L1090.4,1050.7 L1091.6,1050.4 L1092.8,1053.4 L1094.0,1053.5 L1095.2,1051.7 L1096.4,1050.2 L1097.6,1053.3 L1098.8,1051.4 L1100.0,1053.2 L1101.2,1052.2 L1102.4,1053.0 L1103.6,1050.6 L1104.8,1052.8 L1106.0,1050.8 L1107.2,1051.5 L1108.4,1053.1 L1109.6,1053.0 L1110.8,1050.7 L1112.0,1050.8 L1113.2,1051.5 L1114.4,1051.9 L1115.6,1051.4 L1116.8,1050.5 L1118.0,1050.9 L1119.2,1052.6 L1120.4,1053.3 L1121.6,1050.2 L1122.8,1052.1 L1124.0,1052.8 L1125.2,1050.2 L1126.4,1053.1 L1127.6,1050.5 L1128.8,1052.2 L1130.0,1052.0 L1131.2,1052.3 L1132.4,1051.2 L1133.6,1051.6 L1134.8,1052.2 L1136.0,1051.6 L1137.2,1052.4 L1138.4,1051.7 L1139.6,1051.6 L1140.8,1050.2 L1142.0,1052.3 L1143.2,1051.8 L1144.4,1050.9 L1145.6,1052.8 L1146.8,1052.9 L1148.0,1051.7 L1149.2,1050.7 L1150.4,1051.8 L1151.6,1050.5 L1152.8,1050.6 L1154.0,1051.6 L1155.2,1050.4 L1156.4,1051.7 L1157.6,1051.9 L1158.8,1050.3 L1160.0,1052.4 L1161.2,1050.4 L1162.4,1052.8 L1163.6,1052.9 L1164.8,1052.0 L1166.0,1050.3 L1167.2,1051.9 L1168.4,1051.5 L1169.6,1053.5 L1170.8,1050.6 L1172.0,1053.2 L1173.2,1053.7 L1174.4,1052.8 L1175.6,1053.1 L1176.8,1050.8 L1178.0,1053.7 L1179.2,1051.9 L1180.4,1053.6 L1181.6,1053.4 L1182.8,1050.7 L1184.0,1053.0 L1185.2,1053.5 L1186.4,1050.4 L1187.6,1051.4 L1188.8,1052.9 L1190.0,1050.7 L1191.2,1053.4 L1192.4,1051.2 L1193.6,1053.1 L1194.8,1050.7 L1196.0,1052.0 L1197.2,1053.5 L1198.4,1050.9 L1199.6,1051.1 L1200.8,1052.0 L1202.0,1051.3 L1203.2,1050.3 L1204.4,1050.8 L1205.6,1050.8 L1206.8,1053.6 L1208.0,1052.0" fill="none" stroke="#ff0000" stroke-width="10" stroke-linejoin="round"/>
<rect x="170" y="1048.8" width="1038.5" height="761.6000000000001" fill="none" stroke="#000" stroke-width="4.6"/>
<line x1="318.4" y1="1810.4" x2="318.4" y2="1794.4" stroke="#000" stroke-width="4.2" />
<line x1="318.4" y1="1048.8" x2="318.4" y2="1064.8" stroke="#000" stroke-width="4.2" />
<line x1="466.7" y1="1810.4" x2="466.7" y2="1802.4" stroke="#000" stroke-width="4.2" />
<line x1="466.7" y1="1048.8" x2="466.7" y2="1056.8" stroke="#000" stroke-width="4.2" />
<line x1="615.1" y1="1810.4" x2="615.1" y2="1794.4" stroke="#000" stroke-width="4.2" />
<line x1="615.1" y1="1048.8" x2="615.1" y2="1064.8" stroke="#000" stroke-width="4.2" />
<line x1="763.4" y1="1810.4" x2="763.4" y2="1802.4" stroke="#000" stroke-width="4.2" />
<line x1="763.4" y1="1048.8" x2="763.4" y2="1056.8" stroke="#000" stroke-width="4.2" />
<line x1="911.8" y1="1810.4" x2="911.8" y2="1794.4" stroke="#000" stroke-width="4.2" />
<line x1="911.8" y1="1048.8" x2="911.8" y2="1064.8" stroke="#000" stroke-width="4.2" />
<line x1="1060.1" y1="1810.4" x2="1060.1" y2="1802.4" stroke="#000" stroke-width="4.2" />
<line x1="1060.1" y1="1048.8" x2="1060.1" y2="1056.8" stroke="#000" stroke-width="4.2" />
<line x1="170" y1="1302.7" x2="186" y2="1302.7" stroke="#000" stroke-width="4.2" />
<line x1="1208.5" y1="1302.7" x2="1192.5" y2="1302.7" stroke="#000" stroke-width="4.2" />
<line x1="170" y1="1556.5" x2="186" y2="1556.5" stroke="#000" stroke-width="4.2" />
<line x1="1208.5" y1="1556.5" x2="1192.5" y2="1556.5" stroke="#000" stroke-width="4.2" />
<text x="149" y="1065.3" font-size="47" font-family='"Liberation Sans", Arial, sans-serif' fill="#000" font-weight="bold" text-anchor="end">0</text>
<text x="149" y="1319.2" font-size="47" font-family='"Liberation Sans", Arial, sans-serif' fill="#000" font-weight="bold" text-anchor="end">-20</text>
<text x="149" y="1573.0" font-size="47" font-family='"Liberation Sans", Arial, sans-serif' fill="#000" font-weight="bold" text-anchor="end">-40</text>
<text x="149" y="1826.9" font-size="47" font-family='"Liberation Sans", Arial, sans-serif' fill="#000" font-weight="bold" text-anchor="end">-60</text>
<text x="318.4" y="1864" font-size="47" font-family='"Liberation Sans", Arial, sans-serif' fill="#000" font-weight="bold" text-anchor="middle">15.6</text>
<text x="615.1" y="1864" font-size="47" font-family='"Liberation Sans", Arial, sans-serif' fill="#000" font-weight="bold" text-anchor="middle">15.7</text>
<text x="911.8" y="1864" font-size="47" font-family='"Liberation Sans", Arial, sans-serif' fill="#000" font-weight="bold" text-anchor="middle">15.8</text>
<text x="1208.5" y="1864" font-size="47" font-family='"Liberation Sans", Arial, sans-serif' fill="#000" font-weight="bold" text-anchor="middle">15.9</text>
<text x="446" y="1920" font-size="48" font-family='"Liberation Sans", Arial, sans-serif' fill="#000" font-weight="bold" textLength="460" lengthAdjust="spacingAndGlyphs">RF Frequency [GHz]</text>
<text x="0" y="0" font-size="48.5" font-family='"Liberation Sans", Arial, sans-serif' fill="#000" font-weight="bold" textLength="686" lengthAdjust="spacingAndGlyphs" transform="translate(55,1756) rotate(-90)">Normalized RF Response [dB]</text>
<text x="215.5" y="1207.5" font-size="94" font-family='"Liberation Sans", Arial, sans-serif' fill="#000" font-weight="bold" textLength="116" lengthAdjust="spacingAndGlyphs">(c)</text>
<text x="216.5" y="1530.5" font-size="52" font-family='"Liberation Sans", Arial, sans-serif' fill="#ff0000" font-weight="bold" textLength="294.5" lengthAdjust="spacingAndGlyphs">Notch Filter</text>
<rect x="218" y="1536" width="290" height="6" fill="#ff0000"/>
<text x="221" y="1606" font-size="52" font-family='"Liberation Serif", "Times New Roman", serif' fill="#ff0000" textLength="35" lengthAdjust="spacingAndGlyphs">&#969;</text>
<text x="272" y="1606" font-size="52" font-family='"Liberation Sans", Arial, sans-serif' fill="#ff0000" font-weight="bold" textLength="295" lengthAdjust="spacingAndGlyphs">= 15.72 GHz</text>
<text x="218" y="1671.6" font-size="52" font-family='"Liberation Sans", Arial, sans-serif' fill="#ff0000" font-weight="bold" textLength="425" lengthAdjust="spacingAndGlyphs">Rejection = 48dB</text>
<text x="218" y="1737" font-size="52" font-family='"Liberation Sans", Arial, sans-serif' fill="#ff0000" font-weight="bold" textLength="513.5" lengthAdjust="spacingAndGlyphs">Linewidth = 98.6MHz</text>
<path d="M1422.3,1055.0 L1424.4,1055.5 L1426.5,1056.5 L1428.5,1055.9 L1430.6,1056.3 L1432.7,1056.7 L1434.8,1056.2 L1436.9,1057.2 L1438.9,1057.7 L1441.0,1058.4 L1443.1,1057.3 L1445.2,1058.0 L1447.2,1057.9 L1449.3,1059.6 L1451.4,1059.7 L1453.5,1058.7 L1455.6,1060.9 L1457.6,1061.3 L1459.7,1061.4 L1461.8,1062.0 L1463.9,1061.8 L1466.0,1062.3 L1468.0,1064.0 L1470.1,1063.8 L1472.2,1064.8 L1474.3,1065.6 L1476.3,1065.9 L1478.4,1067.5 L1480.5,1068.2 L1482.6,1069.7 L1484.7,1069.4 L1486.7,1069.9 L1488.8,1069.9 L1490.9,1070.5 L1493.0,1070.3 L1495.1,1070.2 L1497.1,1071.9 L1499.2,1072.2 L1501.3,1072.1 L1503.4,1072.0 L1505.5,1071.4 L1507.5,1071.4 L1509.6,1071.6 L1511.7,1071.4 L1513.8,1073.0 L1515.8,1072.5 L1517.9,1073.7 L1520.0,1073.8 L1522.1,1075.9 L1522.5,1075.9 L1522.9,1074.5 L1523.4,1075.1 L1523.8,1076.7 L1524.2,1076.1 L1524.7,1077.3 L1525.1,1076.4 L1525.5,1076.0 L1526.0,1077.3 L1526.4,1077.9 L1526.8,1077.1 L1527.3,1077.0 L1527.7,1077.7 L1528.1,1079.2 L1528.6,1079.1 L1529.0,1078.1 L1529.4,1078.6 L1529.9,1078.6 L1530.3,1078.9 L1530.7,1080.7 L1531.2,1079.8 L1531.6,1080.9 L1532.0,1081.0 L1532.5,1080.8 L1532.9,1082.3 L1533.3,1081.5 L1533.8,1082.9 L1534.2,1082.3 L1534.6,1083.3 L1535.1,1083.4 L1535.5,1084.0 L1535.9,1085.9 L1536.4,1086.2 L1536.8,1085.7 L1537.2,1087.5 L1537.7,1086.9 L1538.1,1088.0 L1538.5,1089.7 L1539.0,1090.1 L1539.4,1090.0 L1539.8,1092.8 L1540.3,1092.4 L1540.7,1093.7 L1541.1,1096.1 L1541.6,1096.8 L1542.0,1098.5 L1542.4,1099.9 L1542.9,1102.1 L1543.3,1105.4 L1543.7,1107.3 L1544.2,1110.9 L1544.6,1113.5 L1545.0,1117.1 L1545.5,1121.8 L1545.9,1125.3 L1546.3,1131.7 L1546.8,1143.9 L1547.2,1164.7 L1547.6,1159.6 L1548.1,1139.7 L1548.5,1128.7 L1548.9,1120.9 L1549.4,1115.6 L1549.8,1112.3 L1550.2,1108.8 L1550.7,1103.9 L1551.1,1102.4 L1551.5,1099.6 L1552.0,1096.7 L1552.4,1094.3 L1552.8,1091.9 L1553.3,1090.2 L1553.7,1090.7 L1554.1,1087.9 L1554.6,1087.7 L1555.0,1085.8 L1555.4,1086.0 L1555.9,1084.7 L1556.3,1083.3 L1556.7,1082.3 L1557.2,1082.7 L1557.6,1080.8 L1558.0,1080.5 L1558.5,1080.5 L1558.9,1080.6 L1559.3,1079.5 L1559.8,1078.4 L1560.2,1079.1 L1560.6,1077.2 L1561.1,1076.3 L1561.5,1076.3 L1561.9,1076.1 L1562.4,1074.8 L1562.8,1074.5 L1563.2,1074.3 L1563.7,1074.2 L1564.1,1072.8 L1564.5,1072.8 L1565.0,1073.3 L1565.4,1073.0 L1565.8,1071.9 L1566.3,1071.4 L1566.7,1070.8 L1567.1,1069.4 L1567.6,1068.7 L1568.0,1068.2 L1568.4,1069.5 L1568.9,1068.6 L1569.3,1068.7 L1569.7,1066.3 L1570.2,1067.1 L1570.6,1066.3 L1571.0,1066.4 L1571.5,1065.1 L1571.9,1066.0 L1572.3,1063.7 L1572.8,1064.2 L1573.2,1064.1 L1573.6,1064.0 L1575.7,1061.5 L1577.8,1059.4 L1579.9,1059.1 L1581.9,1059.3 L1584.0,1058.2 L1586.1,1058.9 L1588.2,1059.4 L1590.2,1059.4 L1592.3,1058.5 L1594.4,1059.3 L1596.5,1059.5 L1598.6,1058.9 L1600.6,1059.1 L1602.7,1058.6 L1604.8,1059.1 L1606.9,1059.2 L1609.0,1058.2 L1611.0,1059.3 L1613.1,1060.1 L1615.2,1059.9 L1617.3,1059.7 L1619.4,1059.1 L1621.4,1059.8 L1623.5,1059.6 L1625.6,1059.3 L1627.7,1060.2 L1629.7,1058.7 L1631.8,1060.1 L1633.9,1058.7 L1636.0,1059.9 L1638.1,1059.7 L1640.1,1059.3 L1642.2,1060.3 L1644.3,1060.0 L1646.4,1060.2 L1648.5,1060.9 L1650.5,1059.6 L1652.6,1059.2 L1654.7,1059.9 L1656.8,1060.7 L1658.9,1059.8 L1660.9,1059.8 L1663.0,1061.3 L1665.1,1060.9 L1667.2,1060.5 L1669.2,1061.4 L1671.3,1060.4 L1673.4,1061.1 L1675.5,1060.2 L1677.6,1060.8 L1679.6,1061.6 L1681.7,1061.8 L1683.8,1061.8 L1685.9,1060.8 L1688.0,1061.2 L1690.0,1060.7 L1692.1,1060.4 L1694.2,1061.1 L1696.3,1061.8 L1698.3,1061.8 L1700.4,1061.5 L1702.5,1062.0 L1704.6,1060.7 L1706.7,1060.5 L1708.7,1061.1 L1710.8,1060.7 L1712.9,1060.6 L1715.0,1061.0 L1717.1,1061.5 L1719.1,1061.2 L1721.2,1060.9 L1723.3,1061.9 L1725.4,1062.2 L1727.5,1061.2 L1729.5,1060.4 L1731.6,1060.4 L1733.7,1062.1 L1735.8,1060.4 L1737.8,1061.8 L1739.9,1061.5 L1742.0,1061.0 L1744.1,1062.0 L1746.2,1060.4 L1748.2,1060.7 L1750.3,1061.3 L1752.4,1060.5 L1754.5,1062.1 L1756.6,1060.9 L1758.6,1060.7 L1760.7,1060.6 L1762.8,1061.7 L1764.9,1061.4 L1766.9,1061.8 L1769.0,1061.8 L1771.1,1062.1 L1773.2,1062.5 L1775.3,1061.9 L1777.3,1061.0 L1779.4,1061.5 L1781.5,1060.9 L1783.6,1060.6 L1785.7,1061.6 L1787.7,1062.0 L1789.8,1061.0 L1791.9,1061.2 L1794.0,1061.3 L1796.1,1062.1 L1798.1,1061.7 L1800.2,1061.9 L1802.3,1062.2 L1804.4,1061.5 L1806.4,1062.3 L1808.5,1062.5 L1810.6,1060.9 L1812.7,1062.6 L1814.8,1062.2 L1816.8,1061.0 L1818.9,1061.7 L1821.0,1062.1 L1823.1,1062.6 L1825.2,1061.6 L1827.2,1062.0 L1829.3,1062.6 L1831.4,1062.5 L1833.5,1062.8 L1835.5,1061.8 L1837.6,1062.2 L1839.7,1061.3 L1841.8,1062.4 L1843.9,1062.6 L1845.9,1062.2 L1848.0,1062.4 L1850.1,1061.4 L1852.2,1062.8 L1854.3,1063.0 L1856.3,1063.0 L1858.4,1062.1 L1860.5,1062.6 L1862.6,1061.7 L1864.7,1062.9 L1866.7,1062.8 L1868.8,1061.8 L1870.9,1061.3 L1873.0,1062.0 L1875.0,1062.2 L1877.1,1062.7 L1879.2,1062.1 L1881.3,1061.2 L1883.4,1062.8 L1885.4,1061.3 L1887.5,1062.8 L1889.6,1061.5 L1891.7,1061.9 L1893.8,1062.8 L1895.8,1061.5 L1897.9,1061.5 L1900.0,1062.3 L1902.1,1062.7 L1904.1,1063.0 L1906.2,1062.7 L1908.3,1063.2 L1910.4,1062.3 L1912.5,1063.2 L1914.5,1061.5 L1916.6,1061.8 L1918.7,1062.4 L1920.8,1062.0 L1922.9,1062.9 L1924.9,1062.7 L1927.0,1062.5 L1929.1,1063.1 L1931.2,1062.6 L1933.3,1062.1 L1935.3,1062.2 L1937.4,1063.2 L1939.5,1063.3 L1941.6,1061.9 L1943.6,1063.2 L1945.7,1063.5 L1947.8,1062.6 L1949.9,1062.7 L1952.0,1062.0 L1954.0,1062.6 L1956.1,1062.6 L1958.2,1062.8 L1960.3,1061.7 L1962.4,1063.6 L1964.4,1062.7 L1966.5,1062.4 L1968.6,1063.3 L1970.7,1062.8 L1972.7,1062.7 L1974.8,1063.1 L1976.9,1061.8 L1979.0,1062.8 L1981.1,1062.6 L1983.1,1063.7 L1985.2,1063.6 L1987.3,1062.3 L1989.4,1062.7 L1991.5,1062.0 L1993.5,1062.7 L1995.6,1063.4 L1997.7,1063.6 L1999.8,1062.8 L2001.9,1062.5 L2003.9,1062.2 L2006.0,1063.1 L2008.1,1063.7 L2010.2,1062.2 L2012.2,1063.5 L2014.3,1062.0 L2016.4,1062.3 L2018.5,1062.4 L2020.6,1063.3 L2022.6,1062.6 L2024.7,1062.7 L2026.8,1063.2 L2028.9,1062.2 L2031.0,1063.5 L2033.0,1062.3 L2035.1,1063.1 L2037.2,1062.5 L2039.3,1062.4 L2041.3,1063.1 L2043.4,1062.9 L2045.5,1062.8 L2047.6,1062.9 L2049.7,1063.2 L2051.7,1062.4 L2053.8,1062.5 L2055.9,1063.4 L2058.0,1063.4 L2060.1,1063.2 L2062.1,1063.9 L2064.2,1063.4 L2066.3,1063.9 L2068.4,1062.7 L2070.5,1063.7 L2072.5,1063.8 L2074.6,1064.0 L2076.7,1062.9 L2078.8,1062.9 L2080.8,1064.1 L2082.9,1062.7 L2085.0,1064.3 L2087.1,1064.0 L2089.2,1062.5 L2091.2,1062.8 L2093.3,1063.8 L2095.4,1062.8 L2097.5,1062.5 L2099.6,1064.0 L2101.6,1063.2 L2103.7,1063.9 L2105.8,1062.6 L2107.9,1063.2 L2109.9,1063.7 L2112.0,1062.4 L2114.1,1062.8 L2116.2,1063.8 L2118.3,1064.2 L2120.3,1064.4 L2122.4,1062.7 L2124.5,1063.5 L2126.6,1064.0 L2128.7,1063.5 L2130.7,1063.8 L2132.8,1062.9 L2134.9,1062.6 L2137.0,1062.7 L2139.1,1062.6 L2141.1,1063.6 L2143.2,1063.6 L2145.3,1063.7 L2147.4,1062.8 L2149.4,1062.9 L2151.5,1063.0 L2153.6,1064.3 L2155.7,1064.6 L2157.8,1064.5 L2159.8,1062.8 L2161.9,1062.7 L2164.0,1064.5 L2166.1,1063.6 L2168.2,1064.2 L2170.2,1063.3 L2172.3,1063.6 L2174.4,1063.7 L2176.5,1063.5 L2178.6,1063.9 L2180.6,1062.7 L2182.7,1064.1 L2184.8,1064.4 L2186.9,1063.1 L2188.9,1063.6 L2191.0,1064.2 L2193.1,1063.6 L2195.2,1063.2 L2197.3,1063.1 L2199.3,1063.8 L2201.4,1062.8 L2203.5,1064.6 L2205.6,1064.4 L2207.7,1064.2 L2209.7,1064.6 L2211.8,1064.1 L2213.9,1063.7 L2216.0,1064.1 L2218.0,1063.9 L2220.1,1064.9 L2222.2,1064.5 L2224.3,1063.4 L2226.4,1064.7 L2228.4,1064.4 L2230.5,1064.5 L2232.6,1064.6 L2234.7,1063.8 L2236.8,1064.8 L2238.8,1064.7 L2240.9,1064.4 L2243.0,1064.5 L2245.1,1064.5 L2247.2,1063.8 L2249.2,1064.5 L2251.3,1063.2 L2253.4,1063.7 L2255.5,1064.0 L2257.5,1063.1 L2259.6,1063.8 L2261.7,1064.4 L2263.8,1064.3 L2265.9,1063.6 L2267.9,1065.0 L2270.0,1064.4 L2272.1,1063.8 L2274.2,1064.5 L2276.3,1064.3 L2278.3,1064.2 L2280.4,1063.9 L2282.5,1065.2 L2284.6,1064.5 L2286.6,1064.6 L2288.7,1064.7 L2290.8,1065.2 L2292.9,1063.3 L2295.0,1064.5 L2297.0,1064.7 L2299.1,1063.8 L2301.2,1064.1 L2303.3,1063.4 L2305.4,1063.7 L2307.4,1064.0 L2309.5,1063.5 L2311.6,1063.8 L2313.7,1065.1 L2315.8,1064.4 L2317.8,1064.4 L2319.9,1065.3 L2322.0,1064.5 L2324.1,1065.4 L2326.1,1064.7 L2328.2,1065.0 L2330.3,1063.5 L2332.4,1064.6 L2334.5,1064.9 L2336.5,1063.5 L2338.6,1065.3 L2340.7,1063.8 L2342.8,1064.4 L2344.9,1063.8 L2346.9,1064.5 L2349.0,1064.7 L2351.1,1063.6 L2353.2,1065.4 L2355.2,1064.4 L2357.3,1064.6 L2359.4,1064.7 L2361.5,1064.3 L2363.6,1064.1 L2365.6,1064.9 L2367.7,1064.7 L2369.8,1064.1 L2371.9,1065.0 L2374.0,1064.2 L2376.0,1063.6 L2378.1,1064.1 L2380.2,1063.7 L2382.3,1063.9 L2384.4,1065.2 L2386.4,1064.4 L2388.5,1065.5 L2390.6,1065.2 L2392.7,1063.8 L2394.7,1065.7 L2396.8,1065.6 L2398.9,1063.9 L2401.0,1065.5 L2403.1,1064.6 L2405.1,1064.7 L2407.2,1065.7 L2409.3,1064.2 L2411.4,1064.8 L2413.5,1065.7 L2415.5,1065.2 L2417.6,1064.7 L2419.7,1065.8 L2421.8,1065.4 L2423.8,1065.0 L2425.9,1064.1 L2428.0,1065.1 L2430.1,1064.8 L2432.2,1064.3 L2434.2,1064.0 L2436.3,1064.9 L2438.4,1064.1 L2440.5,1064.8 L2442.6,1065.2 L2444.6,1064.8 L2446.7,1064.5 L2448.8,1065.1 L2450.9,1064.8 L2453.0,1065.5 L2455.0,1065.0 L2457.1,1066.0 L2459.2,1065.9 L2461.3,1065.5" fill="none" stroke="#000" stroke-width="7.5" stroke-linejoin="round"/>
<rect x="1544" y="1190" width="7" height="6" fill="#000"/>
<path d="M1422.3,1181.9 L1424.4,1182.3 L1426.5,1182.2 L1428.5,1180.4 L1430.6,1179.8 L1432.7,1180.8 L1434.8,1180.3 L1436.9,1181.9 L1438.9,1181.3 L1441.0,1180.9 L1443.1,1180.6 L1445.2,1180.8 L1447.2,1178.9 L1449.3,1179.7 L1451.4,1178.7 L1453.5,1180.9 L1455.6,1178.0 L1457.6,1180.3 L1459.7,1177.8 L1461.8,1179.6 L1463.9,1178.3 L1466.0,1178.3 L1468.0,1179.6 L1470.1,1176.8 L1472.2,1176.8 L1474.3,1179.3 L1476.3,1177.9 L1478.4,1176.4 L1480.5,1179.1 L1482.6,1178.8 L1484.7,1175.9 L1486.7,1176.8 L1488.8,1175.7 L1490.9,1176.1 L1493.0,1176.9 L1495.1,1175.3 L1497.1,1176.8 L1499.2,1174.6 L1501.3,1174.8 L1503.4,1176.7 L1505.5,1175.2 L1507.5,1175.1 L1509.6,1175.5 L1511.7,1174.9 L1513.8,1174.4 L1515.8,1173.1 L1517.9,1175.2 L1520.0,1175.8 L1522.1,1175.7 L1524.2,1174.5 L1526.2,1173.4 L1528.3,1173.2 L1530.4,1174.1 L1532.5,1173.9 L1534.6,1171.9 L1536.6,1172.1 L1538.7,1172.4 L1540.8,1172.7 L1542.9,1173.5 L1544.9,1172.3 L1547.0,1170.6 L1549.1,1173.0 L1551.2,1171.6 L1553.3,1171.7 L1555.3,1170.6 L1557.4,1171.1 L1559.5,1170.8 L1561.6,1171.9 L1563.7,1169.8 L1565.7,1171.3 L1567.8,1170.2 L1569.9,1171.9 L1572.0,1169.9 L1574.1,1170.7 L1576.1,1171.0 L1578.2,1172.0 L1580.3,1170.1 L1582.4,1171.5 L1584.4,1170.8 L1586.5,1171.1 L1588.6,1171.7 L1590.7,1173.4 L1592.8,1171.9 L1594.8,1173.5 L1596.9,1171.1 L1599.0,1173.8 L1601.1,1172.3 L1603.2,1172.1 L1605.2,1174.1 L1607.3,1174.9 L1609.4,1172.3 L1611.5,1173.4 L1613.5,1175.3 L1615.6,1174.2 L1617.7,1174.2 L1619.8,1173.7 L1621.9,1174.1 L1623.9,1176.2 L1626.0,1177.7 L1628.1,1178.0 L1630.2,1176.7 L1632.3,1175.5 L1634.3,1176.7 L1636.4,1178.5 L1638.5,1178.9 L1640.6,1178.6 L1642.7,1177.5 L1644.7,1178.8 L1646.8,1178.9 L1648.9,1179.7 L1651.0,1178.9 L1653.0,1181.4 L1655.1,1181.6 L1657.2,1179.6 L1659.3,1180.3 L1661.4,1182.5 L1663.4,1181.0 L1665.5,1183.5 L1667.6,1182.4 L1669.7,1183.4 L1671.8,1183.7 L1673.8,1182.5 L1675.9,1183.1 L1678.0,1183.4 L1680.1,1185.1 L1682.2,1185.5 L1684.2,1184.0 L1686.3,1186.8 L1688.4,1185.7 L1690.5,1185.5 L1692.5,1186.5 L1694.6,1188.6 L1695.1,1187.3 L1695.5,1187.6 L1695.9,1188.7 L1696.4,1188.9 L1696.8,1188.3 L1697.2,1187.3 L1697.7,1187.9 L1698.1,1189.0 L1698.5,1188.7 L1699.0,1188.2 L1699.4,1187.5 L1699.8,1187.7 L1700.3,1188.9 L1700.7,1188.5 L1701.1,1186.8 L1701.6,1189.2 L1702.0,1189.9 L1702.4,1189.7 L1702.9,1190.1 L1703.3,1190.3 L1703.7,1189.2 L1704.2,1190.1 L1704.6,1188.9 L1705.0,1188.2 L1705.4,1189.1 L1705.9,1189.2 L1706.3,1191.3 L1706.7,1190.7 L1707.2,1190.4 L1707.6,1190.9 L1708.0,1189.5 L1708.5,1191.0 L1708.9,1191.8 L1709.3,1191.1 L1709.8,1190.9 L1710.2,1191.7 L1710.6,1191.7 L1711.1,1193.3 L1711.5,1191.9 L1711.9,1192.2 L1712.4,1193.4 L1712.8,1195.2 L1713.2,1196.1 L1713.7,1196.5 L1714.1,1198.2 L1714.5,1197.3 L1715.0,1197.3 L1715.4,1200.1 L1715.8,1201.4 L1716.3,1202.3 L1716.7,1205.8 L1717.1,1207.1 L1717.6,1209.5 L1718.0,1213.0 L1718.4,1218.8 L1718.9,1220.9 L1719.3,1229.9 L1719.7,1246.1 L1720.2,1272.5 L1720.6,1257.3 L1721.0,1233.5 L1721.5,1224.5 L1721.9,1216.3 L1722.3,1212.1 L1722.8,1206.6 L1723.2,1204.5 L1723.6,1202.6 L1724.1,1201.5 L1724.5,1198.0 L1724.9,1197.4 L1725.4,1197.6 L1725.8,1196.7 L1726.2,1194.0 L1726.7,1194.4 L1727.1,1194.6 L1727.5,1193.0 L1728.0,1193.5 L1728.4,1193.2 L1728.8,1193.9 L1729.3,1192.3 L1729.7,1192.4 L1730.1,1191.2 L1730.6,1192.2 L1731.0,1190.7 L1731.4,1191.2 L1731.9,1190.6 L1732.3,1190.3 L1732.7,1189.6 L1733.2,1189.8 L1733.6,1190.7 L1734.0,1189.7 L1734.5,1189.0 L1734.9,1191.3 L1735.3,1189.6 L1735.8,1191.6 L1736.2,1190.4 L1736.6,1189.7 L1737.1,1191.2 L1737.5,1191.2 L1737.9,1189.3 L1738.4,1188.6 L1738.8,1190.2 L1739.2,1190.8 L1739.7,1190.1 L1740.1,1190.6 L1740.5,1189.3 L1741.0,1190.0 L1741.4,1188.8 L1741.8,1189.2 L1742.3,1189.1 L1742.7,1189.1 L1743.1,1189.0 L1743.6,1190.3 L1744.0,1188.1 L1744.4,1188.2 L1744.9,1188.3 L1745.3,1190.5 L1745.7,1189.0 L1746.2,1187.4 L1746.6,1189.8 L1748.7,1189.6 L1750.8,1189.0 L1752.8,1187.2 L1754.9,1188.1 L1757.0,1186.4 L1759.1,1185.5 L1761.1,1187.5 L1763.2,1187.0 L1765.3,1184.7 L1767.4,1186.5 L1769.5,1183.6 L1771.5,1184.4 L1773.6,1183.4 L1775.7,1183.9 L1777.8,1183.8 L1779.9,1185.5 L1781.9,1184.1 L1784.0,1183.7 L1786.1,1183.6 L1788.2,1184.0 L1790.2,1185.7 L1792.3,1184.8 L1794.4,1183.2 L1796.5,1185.0 L1798.6,1184.5 L1800.6,1184.1 L1802.7,1184.3 L1804.8,1184.7 L1806.9,1185.1 L1809.0,1184.1 L1811.0,1184.5 L1813.1,1183.9 L1815.2,1184.4 L1817.3,1183.5 L1819.4,1183.6 L1821.4,1183.9 L1823.5,1184.4 L1825.6,1183.0 L1827.7,1185.0 L1829.7,1183.6 L1831.8,1184.7 L1833.9,1184.1 L1836.0,1184.9 L1838.1,1184.0 L1840.1,1183.1 L1842.2,1183.0 L1844.3,1183.6 L1846.4,1184.0 L1848.5,1184.3 L1850.5,1181.9 L1852.6,1181.7 L1854.7,1181.8 L1856.8,1181.6 L1858.8,1181.5 L1860.9,1181.3 L1863.0,1182.0 L1865.1,1181.5 L1867.2,1183.3 L1869.2,1183.1 L1871.3,1184.1 L1873.4,1184.1 L1875.5,1183.3 L1877.6,1183.9 L1879.6,1180.9 L1881.7,1181.5 L1883.8,1183.7 L1885.9,1182.2 L1888.0,1181.3 L1890.0,1183.0 L1892.1,1181.9 L1894.2,1182.2 L1896.3,1181.5 L1898.3,1181.2 L1900.4,1180.6 L1902.5,1182.3 L1904.6,1183.3 L1906.7,1183.4 L1908.7,1182.6 L1910.8,1183.1 L1912.9,1181.2 L1915.0,1181.0 L1917.1,1182.9 L1919.1,1181.9 L1921.2,1182.0 L1923.3,1179.9 L1925.4,1180.5 L1927.4,1181.3 L1929.5,1182.0 L1931.6,1182.3 L1933.7,1182.0 L1935.8,1180.6 L1937.8,1180.7 L1939.9,1182.2 L1942.0,1182.6 L1944.1,1180.9 L1946.2,1180.0 L1948.2,1181.3 L1950.3,1181.0 L1952.4,1180.4 L1954.5,1180.0 L1956.6,1180.5 L1958.6,1181.2 L1960.7,1179.6 L1962.8,1180.9 L1964.9,1182.2 L1966.9,1181.5 L1969.0,1179.9 L1971.1,1180.4 L1973.2,1179.4 L1975.3,1181.4 L1977.3,1181.0 L1979.4,1179.5 L1981.5,1180.7 L1983.6,1180.8 L1985.7,1180.7 L1987.7,1180.1 L1989.8,1179.8 L1991.9,1180.0 L1994.0,1182.0 L1996.0,1179.8 L1998.1,1180.4 L2000.2,1180.2 L2002.3,1179.3 L2004.4,1180.0 L2006.4,1179.3 L2008.5,1179.7 L2010.6,1179.8 L2012.7,1179.7 L2014.8,1181.6 L2016.8,1179.5 L2018.9,1179.6 L2021.0,1180.6 L2023.1,1179.7 L2025.2,1180.1 L2027.2,1180.5 L2029.3,1178.6 L2031.4,1180.5 L2033.5,1178.7 L2035.5,1179.1 L2037.6,1180.9 L2039.7,1181.4 L2041.8,1180.4 L2043.9,1178.8 L2045.9,1179.6 L2048.0,1179.1 L2050.1,1180.8 L2052.2,1178.9 L2054.3,1178.7 L2056.3,1180.1 L2058.4,1180.1 L2060.5,1179.9 L2062.6,1179.5 L2064.6,1181.1 L2066.7,1179.4 L2068.8,1180.9 L2070.9,1179.2 L2073.0,1179.4 L2075.0,1179.0 L2077.1,1180.1 L2079.2,1180.2 L2081.3,1178.6 L2083.4,1179.5 L2085.4,1180.1 L2087.5,1179.3 L2089.6,1179.8 L2091.7,1179.6 L2093.8,1179.9 L2095.8,1178.8 L2097.9,1178.6 L2100.0,1177.7 L2102.1,1180.4 L2104.1,1180.1 L2106.2,1178.8 L2108.3,1180.6 L2110.4,1180.3 L2112.5,1177.9 L2114.5,1180.1 L2116.6,1178.7 L2118.7,1178.4 L2120.8,1178.2 L2122.9,1178.6 L2124.9,1177.5 L2127.0,1177.4 L2129.1,1177.6 L2131.2,1178.2 L2133.2,1177.7 L2135.3,1177.6 L2137.4,1179.8 L2139.5,1178.3 L2141.6,1178.7 L2143.6,1179.0 L2145.7,1180.0 L2147.8,1177.5 L2149.9,1177.7 L2152.0,1179.7 L2154.0,1179.9 L2156.1,1179.9 L2158.2,1178.6 L2160.3,1178.1 L2162.4,1177.5 L2164.4,1179.7 L2166.5,1179.3 L2168.6,1178.6 L2170.7,1179.3 L2172.7,1177.6 L2174.8,1178.4 L2176.9,1179.6 L2179.0,1177.0 L2181.1,1178.6 L2183.1,1177.2 L2185.2,1179.3 L2187.3,1179.3 L2189.4,1178.6 L2191.5,1177.9 L2193.5,1176.6 L2195.6,1178.1 L2197.7,1177.6 L2199.8,1177.7 L2201.9,1176.6 L2203.9,1179.3 L2206.0,1178.0 L2208.1,1178.1 L2210.2,1179.0 L2212.2,1179.1 L2214.3,1178.0 L2216.4,1178.0 L2218.5,1178.9 L2220.6,1177.4 L2222.6,1179.0 L2224.7,1176.2 L2226.8,1178.7 L2228.9,1177.8 L2231.0,1178.1 L2233.0,1179.2 L2235.1,1176.7 L2237.2,1177.3 L2239.3,1178.5 L2241.3,1178.3 L2243.4,1177.6 L2245.5,1178.4 L2247.6,1178.0 L2249.7,1178.6 L2251.7,1177.9 L2253.8,1177.0 L2255.9,1176.7 L2258.0,1176.0 L2260.1,1176.1 L2262.1,1175.8 L2264.2,1178.8 L2266.3,1176.1 L2268.4,1177.6 L2270.5,1176.0 L2272.5,1178.7 L2274.6,1177.3 L2276.7,1176.1 L2278.8,1178.2 L2280.8,1178.2 L2282.9,1178.6 L2285.0,1176.2 L2287.1,1176.7 L2289.2,1177.5 L2291.2,1176.3 L2293.3,1177.2 L2295.4,1177.6 L2297.5,1177.7 L2299.6,1177.9 L2301.6,1177.7 L2303.7,1176.1 L2305.8,1177.6 L2307.9,1176.6 L2309.9,1175.7 L2312.0,1175.2 L2314.1,1177.1 L2316.2,1176.2 L2318.3,1175.4 L2320.3,1176.6 L2322.4,1176.3 L2324.5,1176.0 L2326.6,1176.8 L2328.7,1176.7 L2330.7,1176.6 L2332.8,1178.0 L2334.9,1177.8 L2337.0,1175.8 L2339.1,1177.6 L2341.1,1175.8 L2343.2,1177.8 L2345.3,1174.9 L2347.4,1175.7 L2349.4,1177.7 L2351.5,1176.8 L2353.6,1176.9 L2355.7,1175.3 L2357.8,1175.0 L2359.8,1177.6 L2361.9,1174.8 L2364.0,1175.1 L2366.1,1175.9 L2368.2,1177.1 L2370.2,1176.6 L2372.3,1177.6 L2374.4,1176.9 L2376.5,1175.8 L2378.5,1177.3 L2380.6,1175.3 L2382.7,1174.5 L2384.8,1177.4 L2386.9,1177.1 L2388.9,1176.4 L2391.0,1175.8 L2393.1,1174.8 L2395.2,1174.9 L2397.3,1174.4 L2399.3,1174.4 L2401.4,1175.6 L2403.5,1176.9 L2405.6,1177.0 L2407.7,1175.7 L2409.7,1176.2 L2411.8,1175.5 L2413.9,1176.4 L2416.0,1176.2 L2418.0,1177.1 L2420.1,1176.6 L2422.2,1176.0 L2424.3,1175.7 L2426.4,1174.3 L2428.4,1175.3 L2430.5,1175.2 L2432.6,1174.2 L2434.7,1174.4 L2436.8,1175.0 L2438.8,1174.2 L2440.9,1175.6 L2443.0,1174.7 L2445.1,1176.8 L2447.1,1175.8 L2449.2,1175.2 L2451.3,1174.9 L2453.4,1174.7 L2455.5,1174.1 L2457.5,1176.5 L2459.6,1176.3" fill="none" stroke="#ff0000" stroke-width="9.5" stroke-linejoin="round"/>
<circle cx="1720.5" cy="1281" r="3.5" fill="#ff0000"/><circle cx="1720.5" cy="1299" r="3.5" fill="#ff0000"/>
<path d="M1422.3,1293.8 L1424.4,1295.0 L1426.5,1295.0 L1428.5,1295.5 L1430.6,1293.6 L1432.7,1293.7 L1434.8,1293.5 L1436.9,1293.7 L1438.9,1295.1 L1441.0,1293.4 L1443.1,1294.5 L1445.2,1293.7 L1447.2,1293.9 L1449.3,1294.3 L1451.4,1295.4 L1453.5,1294.7 L1455.6,1293.1 L1457.6,1293.8 L1459.7,1293.4 L1461.8,1295.5 L1463.9,1295.3 L1466.0,1295.3 L1468.0,1295.3 L1470.1,1295.1 L1472.2,1295.7 L1474.3,1295.2 L1476.3,1293.7 L1478.4,1295.4 L1480.5,1294.3 L1482.6,1295.1 L1484.7,1294.5 L1486.7,1294.2 L1488.8,1294.0 L1490.9,1294.2 L1493.0,1293.8 L1495.1,1293.3 L1497.1,1295.2 L1499.2,1295.2 L1501.3,1295.7 L1503.4,1294.9 L1505.5,1294.5 L1507.5,1295.0 L1509.6,1293.3 L1511.7,1294.8 L1513.8,1294.1 L1515.8,1293.4 L1517.9,1293.5 L1520.0,1294.4 L1522.1,1293.6 L1524.2,1294.2 L1526.2,1294.6 L1528.3,1294.0 L1530.4,1293.2 L1532.5,1294.2 L1534.6,1293.5 L1536.6,1293.5 L1538.7,1293.4 L1540.8,1293.9 L1542.9,1293.0 L1544.9,1294.7 L1547.0,1295.5 L1549.1,1293.9 L1551.2,1294.8 L1553.3,1295.4 L1555.3,1292.9 L1557.4,1293.2 L1559.5,1295.1 L1561.6,1295.2 L1563.7,1294.6 L1565.7,1293.2 L1567.8,1293.9 L1569.9,1295.2 L1572.0,1295.3 L1574.1,1295.0 L1576.1,1293.3 L1578.2,1295.2 L1580.3,1293.8 L1582.4,1294.8 L1584.4,1293.1 L1586.5,1295.5 L1588.6,1294.4 L1590.7,1294.8 L1592.8,1293.3 L1594.8,1294.5 L1596.9,1294.4 L1599.0,1294.4 L1601.1,1293.7 L1603.2,1294.8 L1605.2,1293.7 L1607.3,1293.5 L1609.4,1293.2 L1611.5,1294.6 L1613.5,1293.0 L1615.6,1293.3 L1617.7,1292.9 L1619.8,1294.5 L1621.9,1294.2 L1623.9,1294.2 L1626.0,1292.8 L1628.1,1293.9 L1630.2,1293.6 L1632.3,1292.9 L1634.3,1292.7 L1636.4,1295.4 L1638.5,1293.0 L1640.6,1293.5 L1642.7,1293.4 L1644.7,1294.3 L1646.8,1292.8 L1648.9,1293.9 L1651.0,1293.6 L1653.0,1294.9 L1655.1,1292.6 L1657.2,1293.5 L1659.3,1294.0 L1661.4,1295.3 L1663.4,1294.0 L1665.5,1293.9 L1667.6,1294.5 L1669.7,1293.4 L1671.8,1292.7 L1673.8,1294.0 L1675.9,1295.1 L1678.0,1294.6 L1680.1,1293.3 L1682.2,1294.5 L1684.2,1294.9 L1686.3,1293.3 L1688.4,1294.2 L1690.5,1293.5 L1692.5,1293.2 L1694.6,1293.3 L1696.7,1293.1 L1698.8,1293.5 L1700.9,1292.6 L1702.9,1293.6 L1705.0,1292.7 L1707.1,1294.6 L1709.2,1294.2 L1711.3,1292.5 L1713.3,1294.6 L1715.4,1293.0 L1717.5,1293.8 L1719.6,1294.0 L1721.6,1293.4 L1723.7,1293.3 L1725.8,1293.7 L1727.9,1292.8 L1730.0,1294.9 L1732.0,1292.8 L1734.1,1294.7 L1736.2,1293.0 L1738.3,1293.3 L1740.4,1293.5 L1742.4,1292.5 L1744.5,1292.8 L1746.6,1293.4 L1748.7,1293.6 L1750.8,1294.9 L1752.8,1295.2 L1754.9,1292.5 L1757.0,1293.9 L1759.1,1292.8 L1761.1,1294.6 L1763.2,1293.3 L1765.3,1294.9 L1767.4,1293.9 L1769.5,1292.7 L1771.5,1292.4 L1773.6,1293.1 L1775.7,1294.8 L1777.8,1292.8 L1779.9,1293.7 L1781.9,1293.4 L1784.0,1293.3 L1786.1,1294.6 L1788.2,1292.9 L1790.2,1294.3 L1792.3,1294.2 L1794.4,1294.9 L1796.5,1293.8 L1798.6,1294.9 L1800.6,1293.5 L1802.7,1293.9 L1804.8,1294.0 L1806.9,1294.6 L1809.0,1294.8 L1811.0,1292.6 L1813.1,1292.7 L1815.2,1293.8 L1817.3,1294.6 L1819.4,1293.8 L1821.4,1293.1 L1823.5,1295.0 L1825.6,1293.1 L1827.7,1292.5 L1829.7,1292.4 L1831.8,1292.3 L1833.9,1294.3 L1836.0,1292.6 L1838.1,1294.3 L1840.1,1294.7 L1842.2,1295.0 L1844.3,1294.5 L1846.4,1293.4 L1848.5,1294.0 L1850.5,1294.6 L1852.6,1294.2 L1854.7,1293.1 L1856.8,1294.4 L1858.8,1292.5 L1860.9,1293.1 L1863.0,1295.0 L1865.1,1293.6 L1867.2,1293.0 L1869.2,1294.5 L1871.3,1293.5 L1873.4,1292.3 L1875.5,1292.4 L1877.6,1293.1 L1879.6,1293.3 L1880.1,1295.0 L1880.5,1293.1 L1880.9,1294.8 L1881.4,1294.8 L1881.8,1293.6 L1882.2,1295.2 L1882.7,1294.6 L1883.1,1293.8 L1883.5,1293.2 L1884.0,1293.8 L1884.4,1295.0 L1884.8,1294.0 L1885.3,1293.1 L1885.7,1293.6 L1886.1,1293.9 L1886.6,1293.1 L1887.0,1294.2 L1887.4,1292.7 L1887.9,1294.9 L1888.3,1293.2 L1888.7,1293.0 L1889.2,1294.4 L1889.6,1293.6 L1890.0,1295.3 L1890.5,1294.2 L1890.9,1294.4 L1891.3,1295.3 L1891.8,1293.6 L1892.2,1295.2 L1892.6,1295.0 L1893.1,1294.5 L1893.5,1296.1 L1893.9,1293.5 L1894.4,1296.0 L1894.8,1294.1 L1895.2,1296.2 L1895.7,1294.4 L1896.1,1294.3 L1896.5,1295.7 L1897.0,1297.1 L1897.4,1295.5 L1897.8,1296.4 L1898.3,1297.0 L1898.7,1296.3 L1899.1,1297.5 L1899.6,1296.5 L1900.0,1298.3 L1900.4,1299.8 L1900.9,1299.5 L1901.3,1300.1 L1901.7,1300.8 L1902.2,1304.1 L1902.6,1305.3 L1903.0,1309.1 L1903.5,1311.7 L1903.9,1314.2 L1904.3,1322.9 L1904.8,1334.3 L1905.2,1359.0 L1905.6,1389.2 L1906.1,1358.4 L1906.5,1332.7 L1906.9,1320.5 L1907.4,1313.5 L1907.8,1308.1 L1908.2,1304.7 L1908.7,1304.1 L1909.1,1302.1 L1909.5,1299.3 L1910.0,1300.0 L1910.4,1299.2 L1910.8,1298.3 L1911.3,1298.5 L1911.7,1298.4 L1912.1,1296.7 L1912.6,1297.7 L1913.0,1296.6 L1913.4,1296.6 L1913.8,1296.0 L1914.3,1297.3 L1914.7,1295.9 L1915.1,1297.2 L1915.6,1295.4 L1916.0,1296.3 L1916.4,1296.9 L1916.9,1296.2 L1917.3,1295.3 L1917.7,1294.4 L1918.2,1295.5 L1918.6,1295.3 L1919.0,1296.4 L1919.5,1296.3 L1919.9,1296.8 L1920.3,1295.3 L1920.8,1295.2 L1921.2,1295.6 L1921.6,1296.2 L1922.1,1294.3 L1922.5,1294.7 L1922.9,1294.5 L1923.4,1295.0 L1923.8,1294.9 L1924.2,1296.8 L1924.7,1294.7 L1925.1,1296.7 L1925.5,1294.9 L1926.0,1294.7 L1926.4,1296.8 L1926.8,1294.4 L1927.3,1294.5 L1927.7,1294.5 L1928.1,1294.3 L1928.6,1295.3 L1929.0,1294.8 L1929.4,1294.6 L1929.9,1294.3 L1930.3,1296.2 L1930.7,1294.4 L1931.2,1294.9 L1931.6,1295.9 L1933.7,1296.8 L1935.8,1296.3 L1937.8,1296.5 L1939.9,1296.6 L1942.0,1296.9 L1944.1,1296.7 L1946.2,1294.4 L1948.2,1293.7 L1950.3,1295.0 L1952.4,1294.3 L1954.5,1293.9 L1956.6,1294.3 L1958.6,1292.2 L1960.7,1293.6 L1962.8,1292.8 L1964.9,1292.8 L1966.9,1292.3 L1969.0,1292.4 L1971.1,1293.2 L1973.2,1293.2 L1975.3,1294.1 L1977.3,1292.4 L1979.4,1293.6 L1981.5,1291.9 L1983.6,1293.4 L1985.7,1292.0 L1987.7,1294.0 L1989.8,1294.3 L1991.9,1292.3 L1994.0,1293.8 L1996.0,1292.2 L1998.1,1292.4 L2000.2,1291.9 L2002.3,1292.8 L2004.4,1291.9 L2006.4,1293.5 L2008.5,1293.2 L2010.6,1292.7 L2012.7,1293.5 L2014.8,1292.2 L2016.8,1292.5 L2018.9,1292.6 L2021.0,1291.6 L2023.1,1294.0 L2025.2,1291.8 L2027.2,1291.8 L2029.3,1293.8 L2031.4,1293.8 L2033.5,1292.8 L2035.5,1292.7 L2037.6,1291.9 L2039.7,1291.5 L2041.8,1293.0 L2043.9,1292.2 L2045.9,1291.9 L2048.0,1294.1 L2050.1,1291.6 L2052.2,1292.5 L2054.3,1293.6 L2056.3,1293.6 L2058.4,1291.8 L2060.5,1293.6 L2062.6,1293.1 L2064.6,1293.3 L2066.7,1294.1 L2068.8,1293.7 L2070.9,1293.2 L2073.0,1293.6 L2075.0,1292.9 L2077.1,1293.0 L2079.2,1293.8 L2081.3,1293.2 L2083.4,1292.5 L2085.4,1291.5 L2087.5,1293.7 L2089.6,1292.4 L2091.7,1292.7 L2093.8,1292.3 L2095.8,1293.0 L2097.9,1292.6 L2100.0,1293.8 L2102.1,1293.1 L2104.1,1293.0 L2106.2,1293.6 L2108.3,1292.7 L2110.4,1293.0 L2112.5,1293.6 L2114.5,1293.5 L2116.6,1293.5 L2118.7,1293.9 L2120.8,1293.0 L2122.9,1293.0 L2124.9,1292.0 L2127.0,1292.1 L2129.1,1292.6 L2131.2,1292.8 L2133.2,1293.9 L2135.3,1291.5 L2137.4,1292.4 L2139.5,1293.5 L2141.6,1292.7 L2143.6,1293.8 L2145.7,1291.9 L2147.8,1293.6 L2149.9,1292.6 L2152.0,1293.0 L2154.0,1291.6 L2156.1,1292.5 L2158.2,1293.7 L2160.3,1293.5 L2162.4,1293.0 L2164.4,1292.6 L2166.5,1291.5 L2168.6,1293.4 L2170.7,1292.6 L2172.7,1293.4 L2174.8,1293.1 L2176.9,1292.5 L2179.0,1293.8 L2181.1,1291.8 L2183.1,1294.1 L2185.2,1291.6 L2187.3,1294.1 L2189.4,1293.0 L2191.5,1292.6 L2193.5,1294.0 L2195.6,1292.8 L2197.7,1292.8 L2199.8,1291.5 L2201.9,1293.6 L2203.9,1293.1 L2206.0,1292.0 L2208.1,1291.7 L2210.2,1292.5 L2212.2,1294.0 L2214.3,1293.8 L2216.4,1292.6 L2218.5,1291.4 L2220.6,1293.7 L2222.6,1291.9 L2224.7,1293.4 L2226.8,1292.7 L2228.9,1294.0 L2231.0,1291.7 L2233.0,1293.6 L2235.1,1293.3 L2237.2,1291.4 L2239.3,1292.9 L2241.3,1292.1 L2243.4,1293.3 L2245.5,1294.0 L2247.6,1293.2 L2249.7,1292.7 L2251.7,1293.0 L2253.8,1292.0 L2255.9,1292.6 L2258.0,1291.6 L2260.1,1293.3 L2262.1,1291.5 L2264.2,1292.8 L2266.3,1291.8 L2268.4,1292.9 L2270.5,1291.4 L2272.5,1291.4 L2274.6,1293.0 L2276.7,1293.3 L2278.8,1293.8 L2280.8,1293.2 L2282.9,1294.1 L2285.0,1291.7 L2287.1,1293.0 L2289.2,1293.1 L2291.2,1291.8 L2293.3,1291.7 L2295.4,1291.9 L2297.5,1292.7 L2299.6,1293.5 L2301.6,1293.3 L2303.7,1292.9 L2305.8,1291.5 L2307.9,1293.3 L2309.9,1292.7 L2312.0,1291.7 L2314.1,1293.0 L2316.2,1291.9 L2318.3,1292.1 L2320.3,1292.5 L2322.4,1293.3 L2324.5,1291.5 L2326.6,1292.5 L2328.7,1291.9 L2330.7,1293.1 L2332.8,1293.5 L2334.9,1292.0 L2337.0,1293.2 L2339.1,1292.5 L2341.1,1291.8 L2343.2,1292.0 L2345.3,1292.7 L2347.4,1293.5 L2349.4,1292.9 L2351.5,1291.2 L2353.6,1293.4 L2355.7,1292.8 L2357.8,1292.4 L2359.8,1291.9 L2361.9,1292.4 L2364.0,1293.1 L2366.1,1292.0 L2368.2,1291.6 L2370.2,1293.7 L2372.3,1292.4 L2374.4,1291.4 L2376.5,1293.7 L2378.5,1291.5 L2380.6,1292.2 L2382.7,1292.9 L2384.8,1293.0 L2386.9,1293.7 L2388.9,1291.7 L2391.0,1292.8 L2393.1,1293.6 L2395.2,1292.5 L2397.3,1293.2 L2399.3,1292.5 L2401.4,1293.2 L2403.5,1293.8 L2405.6,1292.1 L2407.7,1293.2 L2409.7,1292.1 L2411.8,1293.6 L2413.9,1293.3 L2416.0,1293.5 L2418.0,1293.6 L2420.1,1292.8 L2422.2,1293.8 L2424.3,1291.6 L2426.4,1292.7 L2428.4,1291.3 L2430.5,1292.8 L2432.6,1293.1 L2434.7,1291.9 L2436.8,1293.4 L2438.8,1292.3 L2440.9,1291.7 L2443.0,1291.7 L2445.1,1292.7 L2447.1,1292.2 L2449.2,1291.2 L2451.3,1292.0 L2453.4,1293.8 L2455.5,1292.4 L2457.5,1293.0 L2459.6,1292.3" fill="none" stroke="#00ff00" stroke-width="9" stroke-linejoin="round"/>
<path d="M1422.3,1408.9 L1424.4,1410.5 L1426.5,1410.3 L1428.5,1411.0 L1430.6,1409.0 L1432.7,1408.9 L1434.8,1410.2 L1436.9,1409.9 L1438.9,1408.8 L1441.0,1409.8 L1443.1,1408.9 L1445.2,1409.9 L1447.2,1408.0 L1449.3,1408.2 L1451.4,1410.0 L1453.5,1408.5 L1455.6,1408.1 L1457.6,1409.6 L1459.7,1409.0 L1461.8,1407.6 L1463.9,1408.6 L1466.0,1408.9 L1468.0,1407.4 L1470.1,1408.7 L1472.2,1407.1 L1474.3,1407.6 L1476.3,1406.8 L1478.4,1407.1 L1480.5,1409.2 L1482.6,1407.5 L1484.7,1409.1 L1486.7,1407.5 L1488.8,1407.9 L1490.9,1408.5 L1493.0,1407.9 L1495.1,1406.2 L1497.1,1407.5 L1499.2,1407.6 L1501.3,1406.2 L1503.4,1405.9 L1505.5,1408.0 L1507.5,1406.9 L1509.6,1405.9 L1511.7,1406.6 L1513.8,1405.9 L1515.8,1407.4 L1517.9,1406.5 L1520.0,1405.3 L1522.1,1407.2 L1524.2,1405.1 L1526.2,1405.6 L1528.3,1404.8 L1530.4,1406.7 L1532.5,1404.9 L1534.6,1406.0 L1536.6,1404.7 L1538.7,1405.7 L1540.8,1406.2 L1542.9,1405.7 L1544.9,1405.4 L1547.0,1405.4 L1549.1,1405.2 L1551.2,1405.6 L1553.3,1404.1 L1555.3,1405.1 L1557.4,1404.3 L1559.5,1406.0 L1561.6,1406.1 L1563.7,1403.6 L1565.7,1403.8 L1567.8,1405.2 L1569.9,1404.8 L1572.0,1403.2 L1574.1,1405.0 L1576.1,1405.6 L1578.2,1404.1 L1580.3,1403.8 L1582.4,1404.3 L1584.4,1405.3 L1586.5,1403.3 L1588.6,1403.4 L1590.7,1403.0 L1592.8,1404.1 L1594.8,1403.6 L1596.9,1402.9 L1599.0,1403.2 L1601.1,1402.2 L1603.2,1402.9 L1605.2,1404.8 L1607.3,1403.7 L1609.4,1402.8 L1611.5,1404.6 L1613.5,1403.0 L1615.6,1402.6 L1617.7,1402.0 L1619.8,1402.3 L1621.9,1402.4 L1623.9,1402.5 L1626.0,1404.3 L1628.1,1402.6 L1630.2,1402.5 L1632.3,1403.5 L1634.3,1404.3 L1636.4,1402.6 L1638.5,1403.8 L1640.6,1402.7 L1642.7,1403.2 L1644.7,1403.3 L1646.8,1404.3 L1648.9,1403.7 L1651.0,1403.0 L1653.0,1403.9 L1655.1,1402.6 L1657.2,1402.6 L1659.3,1404.2 L1661.4,1403.0 L1663.4,1403.6 L1665.5,1402.3 L1667.6,1404.0 L1669.7,1403.1 L1671.8,1402.1 L1673.8,1404.0 L1675.9,1402.7 L1678.0,1402.3 L1680.1,1402.0 L1682.2,1401.6 L1684.2,1401.8 L1686.3,1403.2 L1688.4,1401.6 L1690.5,1401.9 L1692.5,1402.4 L1694.6,1402.7 L1696.7,1402.2 L1698.8,1403.3 L1700.9,1401.8 L1702.9,1402.1 L1705.0,1402.2 L1707.1,1401.4 L1709.2,1401.6 L1711.3,1401.4 L1713.3,1403.0 L1715.4,1401.4 L1717.5,1402.8 L1719.6,1401.5 L1721.6,1402.7 L1723.7,1402.7 L1725.8,1401.8 L1727.9,1403.4 L1730.0,1402.6 L1732.0,1402.3 L1734.1,1400.9 L1736.2,1401.9 L1738.3,1401.5 L1740.4,1402.0 L1742.4,1403.3 L1744.5,1403.1 L1746.6,1400.8 L1748.7,1402.5 L1750.8,1403.3 L1752.8,1402.3 L1754.9,1401.1 L1757.0,1403.4 L1759.1,1402.3 L1761.1,1404.0 L1763.2,1403.8 L1765.3,1403.8 L1767.4,1404.2 L1769.5,1401.9 L1771.5,1404.0 L1773.6,1402.8 L1775.7,1402.4 L1777.8,1403.2 L1779.9,1403.9 L1781.9,1402.4 L1784.0,1403.8 L1786.1,1404.8 L1788.2,1404.1 L1790.2,1404.4 L1792.3,1403.8 L1794.4,1405.8 L1796.5,1403.9 L1798.6,1405.3 L1800.6,1405.3 L1802.7,1403.6 L1804.8,1406.5 L1806.9,1404.5 L1809.0,1406.7 L1811.0,1406.7 L1813.1,1406.7 L1815.2,1406.7 L1817.3,1405.5 L1819.4,1405.8 L1821.4,1405.6 L1823.5,1407.4 L1825.6,1405.0 L1827.7,1405.4 L1829.7,1407.8 L1831.8,1407.5 L1833.9,1407.3 L1836.0,1408.2 L1838.1,1407.1 L1840.1,1408.0 L1842.2,1407.1 L1844.3,1408.5 L1846.4,1406.3 L1848.5,1407.4 L1850.5,1407.9 L1852.6,1408.6 L1854.7,1407.7 L1856.8,1408.6 L1858.8,1409.5 L1860.9,1408.1 L1863.0,1407.6 L1865.1,1407.2 L1867.2,1409.7 L1869.2,1408.7 L1871.3,1408.6 L1873.4,1409.0 L1875.5,1408.0 L1877.6,1408.5 L1879.6,1408.6 L1881.7,1408.8 L1883.8,1410.6 L1885.9,1409.0 L1888.0,1408.7 L1890.0,1411.0 L1892.1,1410.2 L1894.2,1408.9 L1896.3,1410.8 L1898.3,1410.9 L1900.4,1410.9 L1902.5,1411.3 L1904.6,1410.4 L1906.7,1409.9 L1908.7,1411.4 L1910.8,1411.1 L1912.9,1411.4 L1915.0,1410.0 L1917.1,1410.6 L1919.1,1411.5 L1921.2,1410.7 L1923.3,1411.3 L1925.4,1411.0 L1927.4,1411.9 L1929.5,1410.8 L1931.6,1411.2 L1933.7,1412.2 L1935.8,1410.8 L1937.8,1410.5 L1939.9,1411.8 L1942.0,1410.5 L1944.1,1412.5 L1946.2,1411.0 L1948.2,1412.8 L1950.3,1411.8 L1952.4,1410.8 L1954.5,1411.9 L1956.6,1412.4 L1958.6,1411.9 L1960.7,1412.3 L1962.8,1411.6 L1964.9,1413.3 L1966.9,1411.2 L1969.0,1413.0 L1971.1,1410.9 L1973.2,1412.3 L1975.3,1411.1 L1977.3,1411.3 L1979.4,1412.6 L1981.5,1413.6 L1983.6,1412.0 L1985.7,1412.3 L1987.7,1412.5 L1989.8,1412.9 L1991.9,1412.3 L1994.0,1412.3 L1996.0,1413.8 L1998.1,1413.0 L2000.2,1412.5 L2002.3,1413.8 L2004.4,1414.4 L2006.4,1412.9 L2008.5,1411.8 L2010.6,1412.7 L2012.7,1414.5 L2014.8,1412.6 L2016.8,1412.8 L2018.9,1414.6 L2021.0,1412.8 L2023.1,1414.9 L2025.2,1413.3 L2027.2,1413.9 L2029.3,1414.6 L2031.4,1413.3 L2033.5,1415.3 L2035.5,1414.5 L2037.6,1415.5 L2039.7,1415.6 L2041.8,1413.8 L2043.9,1416.0 L2045.9,1416.2 L2048.0,1414.7 L2050.1,1415.8 L2052.2,1414.8 L2054.3,1415.9 L2056.3,1416.6 L2058.4,1415.7 L2060.5,1416.3 L2062.6,1415.3 L2064.6,1417.5 L2065.1,1416.9 L2065.5,1417.5 L2065.9,1415.4 L2066.4,1417.3 L2066.8,1415.5 L2067.2,1416.9 L2067.7,1416.0 L2068.1,1417.9 L2068.5,1415.7 L2069.0,1416.8 L2069.4,1416.8 L2069.8,1416.6 L2070.3,1415.8 L2070.7,1417.5 L2071.1,1418.4 L2071.6,1416.8 L2072.0,1418.3 L2072.4,1416.8 L2072.9,1416.7 L2073.3,1417.3 L2073.7,1418.8 L2074.2,1418.3 L2074.6,1417.9 L2075.0,1416.4 L2075.5,1417.6 L2075.9,1416.5 L2076.3,1416.7 L2076.8,1417.7 L2077.2,1417.4 L2077.6,1417.1 L2078.1,1418.4 L2078.5,1419.3 L2078.9,1419.8 L2079.4,1419.9 L2079.8,1418.7 L2080.2,1418.2 L2080.7,1420.6 L2081.1,1419.6 L2081.5,1420.0 L2082.0,1422.0 L2082.4,1422.0 L2082.8,1423.8 L2083.3,1423.9 L2083.7,1425.5 L2084.1,1424.3 L2084.6,1427.6 L2085.0,1427.7 L2085.4,1429.6 L2085.9,1430.2 L2086.3,1432.0 L2086.7,1434.5 L2087.2,1437.1 L2087.6,1442.9 L2088.0,1445.0 L2088.5,1451.4 L2088.9,1461.1 L2089.3,1475.0 L2089.8,1507.4 L2090.2,1530.2 L2090.6,1491.9 L2091.1,1467.1 L2091.5,1457.3 L2091.9,1449.9 L2092.4,1444.2 L2092.8,1442.5 L2093.2,1439.2 L2093.7,1436.6 L2094.1,1437.4 L2094.5,1434.5 L2095.0,1435.6 L2095.4,1435.2 L2095.8,1432.7 L2096.3,1434.9 L2096.7,1433.5 L2097.1,1433.4 L2097.6,1434.3 L2098.0,1432.7 L2098.4,1431.8 L2098.9,1431.1 L2099.3,1433.3 L2099.7,1431.9 L2100.2,1432.5 L2100.6,1432.2 L2101.0,1433.1 L2101.5,1432.9 L2101.9,1432.8 L2102.3,1431.5 L2102.8,1432.6 L2103.2,1430.8 L2103.6,1430.3 L2104.1,1431.7 L2104.5,1429.9 L2104.9,1432.5 L2105.4,1430.6 L2105.8,1430.9 L2106.2,1430.5 L2106.7,1430.5 L2107.1,1431.1 L2107.5,1431.8 L2108.0,1429.6 L2108.4,1430.5 L2108.8,1430.2 L2109.3,1432.2 L2109.7,1430.7 L2110.1,1430.7 L2110.6,1432.1 L2111.0,1430.5 L2111.4,1430.5 L2111.9,1430.5 L2112.3,1430.1 L2112.7,1431.4 L2113.2,1430.4 L2113.6,1431.2 L2114.0,1431.5 L2114.5,1432.2 L2114.9,1432.2 L2115.3,1431.6 L2115.8,1433.1 L2116.2,1433.2 L2118.3,1433.8 L2120.3,1433.9 L2122.4,1433.8 L2124.5,1434.2 L2126.6,1436.3 L2128.7,1435.8 L2130.7,1435.4 L2132.8,1433.2 L2134.9,1432.0 L2137.0,1429.8 L2139.1,1430.7 L2141.1,1428.3 L2143.2,1427.7 L2145.3,1427.2 L2147.4,1426.3 L2149.4,1425.5 L2151.5,1423.5 L2153.6,1422.2 L2155.7,1424.8 L2157.8,1423.1 L2159.8,1424.8 L2161.9,1426.9 L2164.0,1427.4 L2166.1,1427.4 L2168.2,1428.8 L2170.2,1426.4 L2172.3,1425.5 L2174.4,1425.6 L2176.5,1426.9 L2178.6,1423.8 L2180.6,1424.1 L2182.7,1424.0 L2184.8,1422.6 L2186.9,1424.0 L2188.9,1421.3 L2191.0,1420.7 L2193.1,1422.7 L2195.2,1419.4 L2197.3,1419.4 L2199.3,1419.4 L2201.4,1420.2 L2203.5,1418.1 L2205.6,1418.2 L2207.7,1418.3 L2209.7,1417.2 L2211.8,1417.3 L2213.9,1414.5 L2216.0,1415.4 L2218.0,1413.4 L2220.1,1415.3 L2222.2,1412.7 L2224.3,1412.6 L2226.4,1413.3 L2228.4,1413.5 L2230.5,1411.6 L2232.6,1413.0 L2234.7,1411.2 L2236.8,1411.6 L2238.8,1410.5 L2240.9,1412.1 L2243.0,1412.1 L2245.1,1411.7 L2247.2,1410.2 L2249.2,1409.7 L2251.3,1411.4 L2253.4,1410.7 L2255.5,1410.8 L2257.5,1409.0 L2259.6,1410.0 L2261.7,1409.2 L2263.8,1409.2 L2265.9,1408.1 L2267.9,1409.0 L2270.0,1408.5 L2272.1,1408.1 L2274.2,1409.0 L2276.3,1408.0 L2278.3,1410.1 L2280.4,1409.4 L2282.5,1409.3 L2284.6,1411.3 L2286.6,1410.8 L2288.7,1410.5 L2290.8,1412.5 L2292.9,1412.8 L2295.0,1411.7 L2297.0,1412.3 L2299.1,1411.1 L2301.2,1412.3 L2303.3,1414.4 L2305.4,1413.3 L2307.4,1415.0 L2309.5,1412.6 L2311.6,1412.8 L2313.7,1413.2 L2315.8,1413.5 L2317.8,1415.7 L2319.9,1416.7 L2322.0,1416.3 L2324.1,1416.2 L2326.1,1415.7 L2328.2,1415.7 L2330.3,1415.0 L2332.4,1415.8 L2334.5,1415.0 L2336.5,1417.0 L2338.6,1416.2 L2340.7,1415.8 L2342.8,1417.1 L2344.9,1415.6 L2346.9,1417.2 L2349.0,1416.8 L2351.1,1416.6 L2353.2,1416.5 L2355.2,1416.6 L2357.3,1417.4 L2359.4,1417.6 L2361.5,1416.4 L2363.6,1417.6 L2365.6,1415.6 L2367.7,1417.5 L2369.8,1417.4 L2371.9,1416.7 L2374.0,1415.3 L2376.0,1417.5 L2378.1,1416.0 L2380.2,1415.9 L2382.3,1417.7 L2384.4,1415.3 L2386.4,1416.9 L2388.5,1415.7 L2390.6,1417.5 L2392.7,1415.7 L2394.7,1415.4 L2396.8,1416.5 L2398.9,1416.4 L2401.0,1417.3 L2403.1,1416.0 L2405.1,1416.0 L2407.2,1416.0 L2409.3,1416.8 L2411.4,1415.6 L2413.5,1416.8 L2415.5,1417.6 L2417.6,1417.2 L2419.7,1416.0 L2421.8,1416.7 L2423.8,1415.6 L2425.9,1416.7 L2428.0,1417.5 L2430.1,1415.4 L2432.2,1417.2 L2434.2,1418.0 L2436.3,1416.2 L2438.4,1416.3 L2440.5,1417.4 L2442.6,1415.9 L2444.6,1416.2 L2446.7,1417.2 L2448.8,1417.0 L2450.9,1416.0 L2453.0,1416.1 L2455.0,1416.9 L2457.1,1418.0 L2459.2,1416.1 L2461.3,1417.5" fill="none" stroke="#0000ff" stroke-width="9" stroke-linejoin="round"/>
<circle cx="2087.5" cy="1535.5" r="3" fill="#0000ff"/>
<path d="M1422.3,1528.3 L1424.4,1525.5 L1426.5,1527.4 L1428.5,1525.6 L1430.6,1527.8 L1432.7,1525.0 L1434.8,1527.2 L1436.9,1526.6 L1438.9,1526.9 L1441.0,1527.2 L1443.1,1524.9 L1445.2,1525.1 L1447.2,1526.0 L1449.3,1524.6 L1451.4,1524.5 L1453.5,1524.2 L1455.6,1525.9 L1457.6,1525.8 L1459.7,1525.4 L1461.8,1523.7 L1463.9,1525.5 L1466.0,1524.2 L1468.0,1523.3 L1470.1,1523.8 L1472.2,1523.6 L1474.3,1522.5 L1476.3,1523.7 L1478.4,1523.0 L1480.5,1523.4 L1482.6,1524.3 L1484.7,1523.4 L1486.7,1522.6 L1488.8,1523.7 L1490.9,1524.0 L1493.0,1522.4 L1495.1,1523.6 L1497.1,1520.8 L1499.2,1521.0 L1501.3,1521.1 L1503.4,1523.2 L1505.5,1522.5 L1507.5,1522.6 L1509.6,1521.4 L1511.7,1521.9 L1513.8,1523.0 L1515.8,1520.8 L1517.9,1520.8 L1520.0,1520.6 L1522.1,1521.8 L1524.2,1522.8 L1526.2,1522.0 L1528.3,1521.6 L1530.4,1521.9 L1532.5,1520.9 L1534.6,1523.1 L1536.6,1521.4 L1538.7,1521.1 L1540.8,1521.3 L1542.9,1522.7 L1544.9,1521.3 L1547.0,1522.9 L1549.1,1521.3 L1551.2,1521.6 L1553.3,1520.5 L1555.3,1522.9 L1557.4,1522.5 L1559.5,1521.6 L1561.6,1520.6 L1563.7,1521.7 L1565.7,1521.3 L1567.8,1522.6 L1569.9,1522.8 L1572.0,1522.3 L1574.1,1521.0 L1576.1,1520.3 L1578.2,1522.7 L1580.3,1522.8 L1582.4,1520.6 L1584.4,1521.6 L1586.5,1521.5 L1588.6,1522.9 L1590.7,1520.3 L1592.8,1520.3 L1594.8,1522.5 L1596.9,1521.7 L1599.0,1521.4 L1601.1,1522.3 L1603.2,1521.7 L1605.2,1522.0 L1607.3,1520.8 L1609.4,1520.3 L1611.5,1520.1 L1613.5,1521.0 L1615.6,1521.8 L1617.7,1521.1 L1619.8,1521.0 L1621.9,1521.7 L1623.9,1522.0 L1626.0,1521.6 L1628.1,1520.8 L1630.2,1522.3 L1632.3,1522.2 L1634.3,1522.4 L1636.4,1522.4 L1638.5,1520.0 L1640.6,1521.8 L1642.7,1520.9 L1644.7,1521.0 L1646.8,1521.3 L1648.9,1520.3 L1651.0,1520.5 L1653.0,1522.6 L1655.1,1520.8 L1657.2,1522.4 L1659.3,1521.7 L1661.4,1520.7 L1663.4,1520.7 L1665.5,1521.5 L1667.6,1521.7 L1669.7,1520.7 L1671.8,1519.9 L1673.8,1520.2 L1675.9,1522.1 L1678.0,1521.8 L1680.1,1520.0 L1682.2,1522.0 L1684.2,1521.3 L1686.3,1520.6 L1688.4,1522.2 L1690.5,1520.0 L1692.5,1519.9 L1694.6,1520.6 L1696.7,1521.7 L1698.8,1521.1 L1700.9,1521.0 L1702.9,1522.3 L1705.0,1521.0 L1707.1,1522.2 L1709.2,1520.2 L1711.3,1522.5 L1713.3,1520.8 L1715.4,1522.3 L1717.5,1523.0 L1719.6,1522.6 L1721.6,1522.5 L1723.7,1522.5 L1725.8,1523.2 L1727.9,1522.3 L1730.0,1522.0 L1732.0,1523.1 L1734.1,1523.1 L1736.2,1522.1 L1738.3,1523.3 L1740.4,1523.3 L1742.4,1522.5 L1744.5,1524.2 L1746.6,1524.5 L1748.7,1523.4 L1750.8,1525.0 L1752.8,1525.5 L1754.9,1524.7 L1757.0,1524.1 L1759.1,1523.8 L1761.1,1523.6 L1763.2,1524.1 L1765.3,1526.2 L1767.4,1523.7 L1769.5,1526.3 L1771.5,1525.8 L1773.6,1526.1 L1775.7,1524.3 L1777.8,1526.0 L1779.9,1524.9 L1781.9,1526.3 L1784.0,1526.8 L1786.1,1526.7 L1788.2,1526.3 L1790.2,1527.4 L1792.3,1525.7 L1794.4,1525.6 L1796.5,1527.7 L1798.6,1525.6 L1800.6,1526.7 L1802.7,1526.8 L1804.8,1528.2 L1806.9,1526.9 L1809.0,1527.6 L1811.0,1527.6 L1813.1,1527.6 L1815.2,1527.7 L1817.3,1527.8 L1819.4,1528.3 L1821.4,1528.0 L1823.5,1528.1 L1825.6,1529.6 L1827.7,1529.9 L1829.7,1527.9 L1831.8,1530.0 L1833.9,1527.6 L1836.0,1528.6 L1838.1,1530.3 L1840.1,1528.3 L1842.2,1529.9 L1844.3,1530.9 L1846.4,1529.9 L1848.5,1529.6 L1850.5,1528.6 L1852.6,1529.9 L1854.7,1530.0 L1856.8,1531.1 L1858.8,1530.1 L1860.9,1531.3 L1863.0,1530.4 L1865.1,1531.1 L1867.2,1531.6 L1869.2,1530.0 L1871.3,1532.4 L1873.4,1531.1 L1875.5,1531.3 L1877.6,1532.8 L1879.6,1531.8 L1881.7,1531.8 L1883.8,1531.0 L1885.9,1531.2 L1888.0,1532.8 L1890.0,1532.2 L1892.1,1532.8 L1894.2,1533.0 L1896.3,1533.1 L1898.3,1532.2 L1900.4,1533.8 L1902.5,1532.8 L1904.6,1532.2 L1906.7,1534.3 L1908.7,1534.6 L1910.8,1532.5 L1912.9,1534.8 L1915.0,1534.4 L1917.1,1533.4 L1919.1,1534.4 L1921.2,1535.6 L1923.3,1533.6 L1925.4,1535.1 L1927.4,1534.1 L1929.5,1534.0 L1931.6,1536.4 L1933.7,1536.7 L1935.8,1535.9 L1937.8,1536.4 L1939.9,1535.5 L1942.0,1535.7 L1944.1,1536.4 L1946.2,1537.1 L1948.2,1537.0 L1950.3,1536.5 L1952.4,1537.1 L1954.5,1536.6 L1956.6,1537.9 L1958.6,1538.2 L1960.7,1538.1 L1962.8,1537.0 L1964.9,1537.3 L1966.9,1539.1 L1969.0,1537.6 L1971.1,1538.6 L1973.2,1537.1 L1975.3,1537.4 L1977.3,1537.8 L1979.4,1539.2 L1981.5,1538.1 L1983.6,1539.5 L1985.7,1538.0 L1987.7,1539.9 L1989.8,1540.1 L1991.9,1539.0 L1994.0,1539.1 L1996.0,1539.3 L1998.1,1540.1 L2000.2,1539.4 L2002.3,1539.7 L2004.4,1541.4 L2006.4,1542.0 L2008.5,1540.0 L2010.6,1541.2 L2012.7,1541.7 L2014.8,1542.7 L2016.8,1541.8 L2018.9,1541.9 L2021.0,1542.7 L2023.1,1542.9 L2025.2,1542.9 L2027.2,1542.8 L2029.3,1543.5 L2031.4,1541.6 L2033.5,1543.8 L2035.5,1542.4 L2037.6,1543.0 L2039.7,1543.2 L2041.8,1543.8 L2043.9,1544.1 L2045.9,1544.3 L2048.0,1543.7 L2050.1,1544.0 L2052.2,1545.0 L2054.3,1546.0 L2056.3,1544.6 L2058.4,1543.7 L2060.5,1546.3 L2062.6,1546.5 L2064.6,1546.6 L2066.7,1546.2 L2068.8,1545.7 L2070.9,1544.9 L2073.0,1547.5 L2075.0,1546.3 L2077.1,1545.6 L2079.2,1547.2 L2081.3,1545.7 L2083.4,1546.9 L2085.4,1547.7 L2087.5,1548.4 L2089.6,1547.3 L2091.7,1547.0 L2093.8,1547.6 L2095.8,1549.0 L2097.9,1547.2 L2100.0,1547.4 L2102.1,1548.2 L2104.1,1550.0 L2106.2,1550.0 L2108.3,1550.4 L2110.4,1548.0 L2112.5,1549.4 L2114.5,1548.6 L2116.6,1549.9 L2118.7,1550.7 L2120.8,1550.0 L2122.9,1550.7 L2124.9,1550.8 L2127.0,1550.5 L2129.1,1550.3 L2131.2,1550.1 L2133.2,1551.6 L2135.3,1552.4 L2137.4,1552.6 L2139.5,1552.6 L2141.6,1552.5 L2143.6,1552.2 L2145.7,1551.9 L2147.8,1551.0 L2149.9,1553.0 L2152.0,1551.5 L2154.0,1553.7 L2156.1,1553.7 L2158.2,1552.2 L2160.3,1554.1 L2162.4,1553.8 L2164.4,1554.2 L2166.5,1552.3 L2168.6,1553.0 L2170.7,1552.8 L2172.7,1555.1 L2174.8,1553.3 L2176.9,1554.1 L2179.0,1555.1 L2181.1,1554.2 L2183.1,1555.1 L2185.2,1555.2 L2187.3,1554.7 L2189.4,1556.4 L2191.5,1555.8 L2193.5,1555.8 L2195.6,1555.5 L2197.7,1554.9 L2199.8,1553.3 L2201.9,1555.1 L2203.9,1554.9 L2206.0,1552.2 L2208.1,1552.7 L2210.2,1551.9 L2212.2,1551.4 L2214.3,1552.4 L2216.4,1551.7 L2218.5,1550.5 L2220.6,1551.2 L2222.6,1551.5 L2224.7,1549.7 L2226.8,1550.8 L2228.9,1550.6 L2231.0,1550.8 L2233.0,1550.9 L2235.1,1550.3 L2237.2,1548.6 L2239.3,1547.6 L2241.3,1548.0 L2243.4,1547.3 L2245.5,1548.9 L2247.6,1547.3 L2249.7,1547.7 L2250.1,1548.1 L2250.5,1547.3 L2251.0,1548.8 L2251.4,1547.8 L2251.8,1547.5 L2252.3,1546.3 L2252.7,1546.5 L2253.1,1547.7 L2253.6,1547.0 L2254.0,1547.3 L2254.4,1548.1 L2254.9,1547.5 L2255.3,1548.0 L2255.7,1546.6 L2256.2,1545.8 L2256.6,1546.5 L2257.0,1548.4 L2257.5,1546.7 L2257.9,1546.5 L2258.3,1546.4 L2258.8,1549.2 L2259.2,1547.1 L2259.6,1546.9 L2260.1,1547.9 L2260.5,1547.1 L2260.9,1549.2 L2261.4,1549.3 L2261.8,1548.8 L2262.2,1549.8 L2262.7,1548.0 L2263.1,1550.4 L2263.5,1550.2 L2264.0,1550.8 L2264.4,1549.4 L2264.8,1551.9 L2265.3,1552.3 L2265.7,1551.3 L2266.1,1551.2 L2266.6,1552.2 L2267.0,1553.1 L2267.4,1553.0 L2267.9,1553.8 L2268.3,1555.5 L2268.7,1555.6 L2269.2,1555.5 L2269.6,1557.9 L2270.0,1558.6 L2270.5,1557.7 L2270.9,1560.5 L2271.3,1561.6 L2271.7,1563.5 L2272.2,1566.0 L2272.6,1570.0 L2273.0,1572.5 L2273.5,1575.2 L2273.9,1579.6 L2274.3,1587.0 L2274.8,1601.4 L2275.2,1631.5 L2275.6,1638.0 L2276.1,1605.3 L2276.5,1588.2 L2276.9,1578.5 L2277.4,1574.3 L2277.8,1567.9 L2278.2,1565.0 L2278.7,1563.3 L2279.1,1561.8 L2279.5,1559.0 L2280.0,1558.4 L2280.4,1556.4 L2280.8,1554.9 L2281.3,1557.0 L2281.7,1554.0 L2282.1,1555.5 L2282.6,1553.1 L2283.0,1553.6 L2283.4,1554.0 L2283.9,1554.9 L2284.3,1554.4 L2284.7,1552.9 L2285.2,1552.0 L2285.6,1553.8 L2286.0,1553.6 L2286.5,1554.0 L2286.9,1551.6 L2287.3,1552.9 L2287.8,1552.6 L2288.2,1553.2 L2288.6,1553.0 L2289.1,1552.7 L2289.5,1552.8 L2289.9,1550.5 L2290.4,1553.0 L2290.8,1551.8 L2291.2,1552.5 L2291.7,1550.3 L2292.1,1551.3 L2292.5,1552.2 L2293.0,1552.4 L2293.4,1551.3 L2293.8,1552.0 L2294.3,1549.5 L2294.7,1549.6 L2295.1,1550.0 L2295.6,1551.7 L2296.0,1551.1 L2296.4,1550.3 L2296.9,1551.6 L2297.3,1550.4 L2297.7,1549.3 L2298.2,1551.4 L2298.6,1550.8 L2299.0,1551.4 L2299.5,1550.8 L2299.9,1549.9 L2300.3,1551.0 L2300.8,1548.8 L2301.2,1548.4 L2301.6,1549.0 L2303.7,1550.7 L2305.8,1548.0 L2307.9,1549.6 L2309.9,1548.7 L2312.0,1547.3 L2314.1,1547.2 L2316.2,1548.4 L2318.3,1547.2 L2320.3,1548.3 L2322.4,1545.7 L2324.5,1546.9 L2326.6,1547.5 L2328.7,1545.5 L2330.7,1545.3 L2332.8,1545.9 L2334.9,1544.5 L2337.0,1545.6 L2339.1,1546.1 L2341.1,1544.2 L2343.2,1543.5 L2345.3,1545.3 L2347.4,1542.7 L2349.4,1544.7 L2351.5,1543.2 L2353.6,1544.1 L2355.7,1542.8 L2357.8,1544.2 L2359.8,1543.2 L2361.9,1542.9 L2364.0,1541.3 L2366.1,1542.5 L2368.2,1541.4 L2370.2,1542.6 L2372.3,1541.3 L2374.4,1540.9 L2376.5,1540.5 L2378.5,1540.7 L2380.6,1540.2 L2382.7,1540.4 L2384.8,1541.0 L2386.9,1541.7 L2388.9,1541.3 L2391.0,1540.0 L2393.1,1541.4 L2395.2,1539.7 L2397.3,1539.7 L2399.3,1539.9 L2401.4,1539.9 L2403.5,1539.4 L2405.6,1539.8 L2407.7,1538.3 L2409.7,1538.2 L2411.8,1538.4 L2413.9,1538.5 L2416.0,1537.8 L2418.0,1538.5 L2420.1,1537.0 L2422.2,1537.8 L2424.3,1537.8 L2426.4,1538.0 L2428.4,1536.6 L2430.5,1537.8 L2432.6,1537.1 L2434.7,1538.3 L2436.8,1535.9 L2438.8,1536.5 L2440.9,1537.4 L2443.0,1537.7 L2445.1,1537.2 L2447.1,1537.2 L2449.2,1535.8 L2451.3,1535.1 L2453.4,1535.0 L2455.5,1535.9 L2457.5,1535.8 L2459.6,1535.0" fill="none" stroke="#00ffff" stroke-width="9" stroke-linejoin="round"/>
<circle cx="2272" cy="1661" r="3.5" fill="#00ffff"/>
<path d="M1422.3,1643.6 L1424.4,1644.0 L1426.5,1643.8 L1428.5,1643.9 L1430.6,1643.8 L1432.7,1644.5 L1434.8,1643.5 L1436.9,1644.5 L1438.9,1642.9 L1441.0,1643.7 L1443.1,1643.8 L1445.2,1643.3 L1447.2,1644.9 L1449.3,1643.8 L1451.4,1645.0 L1453.5,1645.5 L1455.6,1643.7 L1457.6,1645.3 L1459.7,1645.1 L1461.8,1644.8 L1463.9,1643.1 L1466.0,1644.3 L1468.0,1644.7 L1470.1,1643.9 L1472.2,1643.7 L1474.3,1644.0 L1476.3,1643.9 L1478.4,1645.3 L1480.5,1644.1 L1482.6,1644.3 L1484.7,1644.9 L1486.7,1645.7 L1488.8,1644.1 L1490.9,1643.4 L1493.0,1645.9 L1495.1,1645.5 L1497.1,1645.4 L1499.2,1644.8 L1501.3,1644.0 L1503.4,1643.8 L1505.5,1644.2 L1507.5,1644.7 L1509.6,1643.7 L1511.7,1645.3 L1513.8,1645.4 L1515.8,1643.6 L1517.9,1645.8 L1520.0,1644.9 L1522.1,1646.0 L1524.2,1644.9 L1526.2,1645.7 L1528.3,1644.8 L1530.4,1645.3 L1532.5,1645.0 L1534.6,1643.8 L1536.6,1644.1 L1538.7,1644.4 L1540.8,1644.8 L1542.9,1644.7 L1544.9,1645.2 L1547.0,1645.5 L1549.1,1644.9 L1551.2,1644.7 L1553.3,1645.2 L1555.3,1646.4 L1557.4,1646.0 L1559.5,1645.6 L1561.6,1646.1 L1563.7,1644.6 L1565.7,1644.3 L1567.8,1644.3 L1569.9,1644.3 L1572.0,1644.1 L1574.1,1645.7 L1576.1,1646.5 L1578.2,1644.4 L1580.3,1645.9 L1582.4,1646.6 L1584.4,1646.2 L1586.5,1644.6 L1588.6,1645.9 L1590.7,1644.9 L1592.8,1644.7 L1594.8,1644.3 L1596.9,1645.6 L1599.0,1646.7 L1601.1,1644.6 L1603.2,1644.7 L1605.2,1645.4 L1607.3,1644.5 L1609.4,1645.6 L1611.5,1646.3 L1613.5,1645.6 L1615.6,1644.5 L1617.7,1644.5 L1619.8,1645.0 L1621.9,1646.2 L1623.9,1646.9 L1626.0,1645.8 L1628.1,1644.8 L1630.2,1645.1 L1632.3,1645.7 L1634.3,1644.9 L1636.4,1644.9 L1638.5,1645.8 L1640.6,1646.9 L1642.7,1645.3 L1644.7,1647.0 L1646.8,1647.0 L1648.9,1645.9 L1651.0,1645.3 L1653.0,1645.3 L1655.1,1646.5 L1657.2,1647.0 L1659.3,1647.1 L1661.4,1645.4 L1663.4,1646.0 L1665.5,1644.9 L1667.6,1645.7 L1669.7,1645.7 L1671.8,1645.3 L1673.8,1645.2 L1675.9,1647.6 L1678.0,1645.8 L1680.1,1646.3 L1682.2,1646.4 L1684.2,1646.3 L1686.3,1646.6 L1688.4,1646.4 L1690.5,1646.4 L1692.5,1645.3 L1694.6,1646.8 L1696.7,1646.9 L1698.8,1647.1 L1700.9,1646.0 L1702.9,1646.4 L1705.0,1647.3 L1707.1,1647.2 L1709.2,1645.4 L1711.3,1646.2 L1713.3,1645.8 L1715.4,1647.2 L1717.5,1646.4 L1719.6,1646.4 L1721.6,1646.0 L1723.7,1646.6 L1725.8,1647.3 L1727.9,1647.1 L1730.0,1646.0 L1732.0,1646.5 L1734.1,1647.1 L1736.2,1645.7 L1738.3,1647.9 L1740.4,1645.6 L1742.4,1647.2 L1744.5,1646.0 L1746.6,1648.1 L1748.7,1647.4 L1750.8,1646.2 L1752.8,1647.0 L1754.9,1647.9 L1757.0,1647.9 L1759.1,1647.5 L1761.1,1647.4 L1763.2,1647.7 L1765.3,1648.2 L1767.4,1647.1 L1769.5,1647.4 L1771.5,1647.9 L1773.6,1647.2 L1775.7,1646.5 L1777.8,1647.4 L1779.9,1646.8 L1781.9,1647.8 L1784.0,1647.9 L1786.1,1648.3 L1788.2,1646.3 L1790.2,1646.1 L1792.3,1648.5 L1794.4,1647.9 L1796.5,1648.7 L1798.6,1648.2 L1800.6,1648.6 L1802.7,1646.5 L1804.8,1646.6 L1806.9,1647.8 L1809.0,1648.2 L1811.0,1646.5 L1813.1,1648.7 L1815.2,1646.8 L1817.3,1646.8 L1819.4,1647.4 L1821.4,1646.8 L1823.5,1646.5 L1825.6,1646.5 L1827.7,1646.4 L1829.7,1646.8 L1831.8,1648.2 L1833.9,1648.4 L1836.0,1648.4 L1838.1,1647.5 L1840.1,1648.4 L1842.2,1646.8 L1844.3,1648.7 L1846.4,1647.6 L1848.5,1646.9 L1850.5,1647.6 L1852.6,1647.1 L1854.7,1648.5 L1856.8,1647.6 L1858.8,1646.7 L1860.9,1647.2 L1863.0,1646.9 L1865.1,1649.2 L1867.2,1647.8 L1869.2,1648.8 L1871.3,1648.3 L1873.4,1647.8 L1875.5,1648.7 L1877.6,1648.2 L1879.6,1646.9 L1881.7,1649.4 L1883.8,1647.8 L1885.9,1648.6 L1888.0,1648.0 L1890.0,1649.4 L1892.1,1647.4 L1894.2,1647.1 L1896.3,1647.1 L1898.3,1648.0 L1900.4,1649.2 L1902.5,1648.2 L1904.6,1649.5 L1906.7,1647.5 L1908.7,1649.7 L1910.8,1647.7 L1912.9,1649.6 L1915.0,1647.8 L1917.1,1648.9 L1919.1,1649.0 L1921.2,1650.0 L1923.3,1648.5 L1925.4,1649.7 L1927.4,1647.7 L1929.5,1649.9 L1931.6,1649.0 L1933.7,1649.1 L1935.8,1650.2 L1937.8,1648.6 L1939.9,1649.4 L1942.0,1649.4 L1944.1,1648.7 L1946.2,1648.3 L1948.2,1649.1 L1950.3,1648.8 L1952.4,1649.7 L1954.5,1649.2 L1956.6,1648.4 L1958.6,1650.0 L1960.7,1650.6 L1962.8,1649.9 L1964.9,1649.1 L1966.9,1649.2 L1969.0,1650.9 L1971.1,1649.6 L1973.2,1650.4 L1975.3,1648.7 L1977.3,1650.7 L1979.4,1650.9 L1981.5,1649.3 L1983.6,1649.5 L1985.7,1650.4 L1987.7,1651.3 L1989.8,1650.9 L1991.9,1648.9 L1994.0,1649.2 L1996.0,1651.3 L1998.1,1650.0 L2000.2,1651.5 L2002.3,1650.3 L2004.4,1651.3 L2006.4,1649.7 L2008.5,1651.7 L2010.6,1650.5 L2012.7,1649.3 L2014.8,1649.9 L2016.8,1649.6 L2018.9,1650.5 L2021.0,1652.0 L2023.1,1652.0 L2025.2,1652.0 L2027.2,1650.7 L2029.3,1651.6 L2031.4,1651.6 L2033.5,1651.9 L2035.5,1652.4 L2037.6,1652.2 L2039.7,1652.2 L2041.8,1651.1 L2043.9,1650.9 L2045.9,1651.7 L2048.0,1651.5 L2050.1,1652.8 L2052.2,1651.4 L2054.3,1651.7 L2056.3,1653.2 L2058.4,1651.5 L2060.5,1651.8 L2062.6,1651.7 L2064.6,1651.9 L2066.7,1652.2 L2068.8,1654.0 L2070.9,1652.9 L2073.0,1652.7 L2075.0,1653.8 L2077.1,1653.6 L2079.2,1652.8 L2081.3,1653.1 L2083.4,1653.7 L2085.4,1654.3 L2087.5,1653.7 L2089.6,1654.6 L2091.7,1654.9 L2093.8,1656.2 L2095.8,1655.5 L2097.9,1654.8 L2100.0,1654.8 L2102.1,1654.8 L2104.1,1655.5 L2106.2,1657.1 L2108.3,1657.2 L2110.4,1655.3 L2112.5,1656.7 L2114.5,1656.6 L2116.6,1656.7 L2118.7,1655.9 L2120.8,1655.2 L2122.9,1653.4 L2124.9,1653.5 L2127.0,1654.9 L2129.1,1654.5 L2131.2,1654.0 L2133.2,1652.2 L2135.3,1653.0 L2137.4,1652.7 L2139.5,1651.3 L2141.6,1650.8 L2143.6,1650.7 L2145.7,1650.6 L2147.8,1648.9 L2149.9,1648.5 L2152.0,1650.7 L2154.0,1648.8 L2156.1,1648.4 L2158.2,1648.5 L2160.3,1648.0 L2162.4,1648.1 L2164.4,1647.3 L2166.5,1645.7 L2168.6,1645.8 L2170.7,1646.3 L2172.7,1646.5 L2174.8,1648.1 L2176.9,1646.8 L2179.0,1645.8 L2181.1,1647.6 L2183.1,1646.2 L2185.2,1646.4 L2187.3,1647.0 L2189.4,1647.2 L2191.5,1645.9 L2193.5,1646.3 L2195.6,1645.2 L2197.7,1647.6 L2199.8,1647.4 L2201.9,1647.2 L2203.9,1645.5 L2206.0,1646.6 L2208.1,1646.1 L2210.2,1645.3 L2212.2,1645.4 L2214.3,1647.1 L2216.4,1646.4 L2218.5,1646.3 L2220.6,1645.1 L2222.6,1646.2 L2224.7,1647.0 L2226.8,1645.1 L2228.9,1645.2 L2231.0,1647.0 L2233.0,1645.2 L2235.1,1645.7 L2237.2,1646.8 L2239.3,1647.0 L2241.3,1646.7 L2243.4,1647.5 L2245.5,1648.1 L2247.6,1648.3 L2249.7,1650.3 L2251.7,1650.1 L2253.8,1651.2 L2255.9,1653.4 L2258.0,1652.4 L2260.1,1652.5 L2262.1,1652.5 L2264.2,1654.0 L2266.3,1653.0 L2268.4,1653.0 L2270.5,1653.7 L2272.5,1654.2 L2274.6,1654.8 L2276.7,1652.5 L2278.8,1653.2 L2280.8,1652.4 L2282.9,1653.2 L2285.0,1654.1 L2287.1,1653.2 L2289.2,1653.4 L2291.2,1653.1 L2293.3,1654.9 L2295.4,1654.4 L2297.5,1654.6 L2299.6,1654.1 L2301.6,1655.1 L2303.7,1654.8 L2305.8,1653.7 L2307.9,1654.1 L2309.9,1656.5 L2312.0,1655.8 L2314.1,1656.6 L2316.2,1656.5 L2318.3,1657.7 L2320.3,1656.2 L2322.4,1656.4 L2324.5,1656.8 L2326.6,1658.5 L2328.7,1658.5 L2330.7,1658.6 L2332.8,1658.1 L2334.9,1659.0 L2337.0,1658.9 L2339.1,1658.7 L2341.1,1661.3 L2343.2,1661.2 L2345.3,1661.5 L2347.4,1660.7 L2349.4,1662.3 L2351.5,1662.5 L2353.6,1661.0 L2355.7,1662.8 L2357.8,1662.4 L2359.8,1660.4 L2361.9,1660.5 L2364.0,1660.4 L2366.1,1661.9 L2368.2,1660.5 L2370.2,1660.5 L2372.3,1660.1 L2374.4,1661.2 L2376.5,1660.8 L2378.5,1661.4 L2380.6,1660.4 L2382.7,1661.8 L2384.8,1661.5 L2386.9,1660.9 L2388.9,1662.4 L2391.0,1661.4 L2393.1,1661.3 L2395.2,1660.5 L2397.3,1660.7 L2399.3,1661.8 L2401.4,1660.9 L2403.5,1660.3 L2405.6,1661.2 L2406.0,1661.4 L2406.4,1660.5 L2406.9,1660.8 L2407.3,1662.6 L2407.7,1662.3 L2408.2,1661.4 L2408.6,1662.2 L2409.0,1662.0 L2409.5,1660.8 L2409.9,1661.8 L2410.3,1660.6 L2410.8,1662.0 L2411.2,1661.9 L2411.6,1660.8 L2412.1,1662.0 L2412.5,1661.3 L2412.9,1662.4 L2413.4,1663.4 L2413.8,1663.0 L2414.2,1661.1 L2414.7,1662.6 L2415.1,1662.5 L2415.5,1663.6 L2416.0,1662.1 L2416.4,1661.7 L2416.8,1662.5 L2417.3,1662.6 L2417.7,1664.0 L2418.1,1664.3 L2418.6,1663.9 L2419.0,1664.6 L2419.4,1664.1 L2419.9,1664.0 L2420.3,1664.8 L2420.7,1665.9 L2421.2,1665.4 L2421.6,1667.2 L2422.0,1666.7 L2422.5,1666.7 L2422.9,1668.0 L2423.3,1669.6 L2423.8,1669.1 L2424.2,1669.8 L2424.6,1671.2 L2425.1,1673.3 L2425.5,1674.1 L2425.9,1675.1 L2426.4,1675.3 L2426.8,1677.9 L2427.2,1679.9 L2427.7,1680.9 L2428.1,1683.8 L2428.5,1685.4 L2429.0,1690.3 L2429.4,1693.2 L2429.8,1697.8 L2430.3,1705.7 L2430.7,1720.8 L2431.1,1753.9 L2431.6,1762.3 L2432.0,1724.1 L2432.4,1707.1 L2432.9,1697.5 L2433.3,1692.5 L2433.7,1689.3 L2434.2,1684.7 L2434.6,1681.8 L2435.0,1681.2 L2435.5,1678.0 L2435.9,1678.0 L2436.3,1676.8 L2436.8,1673.7 L2437.2,1673.8 L2437.6,1674.0 L2438.1,1672.6 L2438.5,1672.0 L2438.9,1670.2 L2439.4,1670.6 L2439.8,1671.2 L2440.2,1668.9 L2440.7,1670.5 L2441.1,1669.2 L2441.5,1669.0 L2442.0,1670.3 L2442.4,1669.0 L2442.8,1669.2 L2443.3,1670.5 L2443.7,1668.6 L2444.1,1670.3 L2444.5,1668.6 L2445.0,1669.0 L2445.4,1667.3 L2445.8,1669.4 L2446.3,1667.8 L2446.7,1667.7 L2447.1,1668.6 L2447.6,1667.0 L2448.0,1665.7 L2448.4,1666.3 L2448.9,1665.2 L2449.3,1665.0 L2449.7,1667.0 L2450.2,1666.5 L2450.6,1666.1 L2451.0,1665.7 L2451.5,1664.8 L2451.9,1665.1 L2452.3,1664.2 L2452.8,1664.9 L2453.2,1665.0 L2453.6,1663.8 L2454.1,1663.3 L2454.5,1663.3 L2454.9,1662.8 L2455.4,1664.4 L2455.8,1664.0 L2456.2,1662.4 L2456.7,1661.7 L2457.1,1662.5 L2457.5,1663.0 L2459.6,1660.9" fill="none" stroke="#ff00ff" stroke-width="8.5" stroke-linejoin="round"/>
<rect x="1422.3" y="1024.7" width="1039.3999999999999" height="760.5999999999999" fill="none" stroke="#000" stroke-width="4.6"/>
<line x1="1508.9" y1="1785.3" x2="1508.9" y2="1777.3" stroke="#000" stroke-width="4.2" />
<line x1="1508.9" y1="1024.7" x2="1508.9" y2="1032.7" stroke="#000" stroke-width="4.2" />
<line x1="1595.5" y1="1785.3" x2="1595.5" y2="1770.3" stroke="#000" stroke-width="4.2" />
<line x1="1595.5" y1="1024.7" x2="1595.5" y2="1039.7" stroke="#000" stroke-width="4.2" />
<line x1="1682.1" y1="1785.3" x2="1682.1" y2="1777.3" stroke="#000" stroke-width="4.2" />
<line x1="1682.1" y1="1024.7" x2="1682.1" y2="1032.7" stroke="#000" stroke-width="4.2" />
<line x1="1768.8" y1="1785.3" x2="1768.8" y2="1770.3" stroke="#000" stroke-width="4.2" />
<line x1="1768.8" y1="1024.7" x2="1768.8" y2="1039.7" stroke="#000" stroke-width="4.2" />
<line x1="1855.4" y1="1785.3" x2="1855.4" y2="1777.3" stroke="#000" stroke-width="4.2" />
<line x1="1855.4" y1="1024.7" x2="1855.4" y2="1032.7" stroke="#000" stroke-width="4.2" />
<line x1="1942.0" y1="1785.3" x2="1942.0" y2="1770.3" stroke="#000" stroke-width="4.2" />
<line x1="1942.0" y1="1024.7" x2="1942.0" y2="1039.7" stroke="#000" stroke-width="4.2" />
<line x1="2028.6" y1="1785.3" x2="2028.6" y2="1777.3" stroke="#000" stroke-width="4.2" />
<line x1="2028.6" y1="1024.7" x2="2028.6" y2="1032.7" stroke="#000" stroke-width="4.2" />
<line x1="2115.2" y1="1785.3" x2="2115.2" y2="1770.3" stroke="#000" stroke-width="4.2" />
<line x1="2115.2" y1="1024.7" x2="2115.2" y2="1039.7" stroke="#000" stroke-width="4.2" />
<line x1="2201.8" y1="1785.3" x2="2201.8" y2="1777.3" stroke="#000" stroke-width="4.2" />
<line x1="2201.8" y1="1024.7" x2="2201.8" y2="1032.7" stroke="#000" stroke-width="4.2" />
<line x1="2288.5" y1="1785.3" x2="2288.5" y2="1770.3" stroke="#000" stroke-width="4.2" />
<line x1="2288.5" y1="1024.7" x2="2288.5" y2="1039.7" stroke="#000" stroke-width="4.2" />
<line x1="2375.1" y1="1785.3" x2="2375.1" y2="1777.3" stroke="#000" stroke-width="4.2" />
<line x1="2375.1" y1="1024.7" x2="2375.1" y2="1032.7" stroke="#000" stroke-width="4.2" />
<line x1="1404" y1="1059.8" x2="1439" y2="1059.8" stroke="#000" stroke-width="4.2" />
<line x1="2445.7" y1="1059.8" x2="2461.7" y2="1059.8" stroke="#000" stroke-width="4.2" />
<line x1="1404" y1="1176.8" x2="1439" y2="1176.8" stroke="#000" stroke-width="4.2" />
<line x1="2445.7" y1="1176.8" x2="2461.7" y2="1176.8" stroke="#000" stroke-width="4.2" />
<line x1="1404" y1="1293.9" x2="1439" y2="1293.9" stroke="#000" stroke-width="4.2" />
<line x1="2445.7" y1="1293.9" x2="2461.7" y2="1293.9" stroke="#000" stroke-width="4.2" />
<line x1="1404" y1="1410.9" x2="1439" y2="1410.9" stroke="#000" stroke-width="4.2" />
<line x1="2445.7" y1="1410.9" x2="2461.7" y2="1410.9" stroke="#000" stroke-width="4.2" />
<line x1="1404" y1="1528.0" x2="1439" y2="1528.0" stroke="#000" stroke-width="4.2" />
<line x1="2445.7" y1="1528.0" x2="2461.7" y2="1528.0" stroke="#000" stroke-width="4.2" />
<line x1="1404" y1="1645.0" x2="1439" y2="1645.0" stroke="#000" stroke-width="4.2" />
<line x1="2445.7" y1="1645.0" x2="2461.7" y2="1645.0" stroke="#000" stroke-width="4.2" />
<line x1="1404" y1="1762.1" x2="1439" y2="1762.1" stroke="#000" stroke-width="4.2" />
<line x1="2445.7" y1="1762.1" x2="2461.7" y2="1762.1" stroke="#000" stroke-width="4.2" />
<text x="1422.3" y="1839" font-size="48" font-family='"Liberation Sans", Arial, sans-serif' fill="#000" font-weight="bold" text-anchor="middle">14</text>
<text x="1595.5" y="1839" font-size="48" font-family='"Liberation Sans", Arial, sans-serif' fill="#000" font-weight="bold" text-anchor="middle">15</text>
<text x="1768.8" y="1839" font-size="48" font-family='"Liberation Sans", Arial, sans-serif' fill="#000" font-weight="bold" text-anchor="middle">16</text>
<text x="1942.0" y="1839" font-size="48" font-family='"Liberation Sans", Arial, sans-serif' fill="#000" font-weight="bold" text-anchor="middle">17</text>
<text x="2115.2" y="1839" font-size="48" font-family='"Liberation Sans", Arial, sans-serif' fill="#000" font-weight="bold" text-anchor="middle">18</text>
<text x="2288.5" y="1839" font-size="48" font-family='"Liberation Sans", Arial, sans-serif' fill="#000" font-weight="bold" text-anchor="middle">19</text>
<text x="2461.7" y="1839" font-size="48" font-family='"Liberation Sans", Arial, sans-serif' fill="#000" font-weight="bold" text-anchor="middle">20</text>
<text x="1698" y="1898" font-size="48" font-family='"Liberation Sans", Arial, sans-serif' fill="#000" font-weight="bold" textLength="462" lengthAdjust="spacingAndGlyphs">RF Frequency [GHz]</text>
<text x="0" y="0" font-size="48" font-family='"Liberation Sans", Arial, sans-serif' fill="#000" font-weight="bold" textLength="747" lengthAdjust="spacingAndGlyphs" transform="translate(1333,1775) rotate(-90)">Normalized Response [50dB/div]</text>
<text x="2132" y="1150" font-size="95" font-family='"Liberation Sans", Arial, sans-serif' fill="#000" font-weight="bold" textLength="118" lengthAdjust="spacingAndGlyphs">(d)</text>
<text x="1570" y="1143.8" font-size="47" font-family='"Liberation Sans", Arial, sans-serif' fill="#000" font-weight="bold" textLength="201" lengthAdjust="spacingAndGlyphs">14.7 GHz</text>
<text x="1740" y="1260.8" font-size="47" font-family='"Liberation Sans", Arial, sans-serif' fill="#000" font-weight="bold" textLength="201" lengthAdjust="spacingAndGlyphs">15.7 GHz</text>
<text x="1926.5" y="1359.5" font-size="47" font-family='"Liberation Sans", Arial, sans-serif' fill="#000" font-weight="bold" textLength="201" lengthAdjust="spacingAndGlyphs">16.7 GHz</text>
<text x="1851" y="1489" font-size="47" font-family='"Liberation Sans", Arial, sans-serif' fill="#000" font-weight="bold" textLength="201" lengthAdjust="spacingAndGlyphs">17.8 GHz</text>
<text x="2060" y="1613" font-size="47" font-family='"Liberation Sans", Arial, sans-serif' fill="#000" font-weight="bold" textLength="201" lengthAdjust="spacingAndGlyphs">18.7 GHz</text>
<text x="2208" y="1727" font-size="47" font-family='"Liberation Sans", Arial, sans-serif' fill="#000" font-weight="bold" textLength="201" lengthAdjust="spacingAndGlyphs">19.8 GHz</text></svg></body></html>
